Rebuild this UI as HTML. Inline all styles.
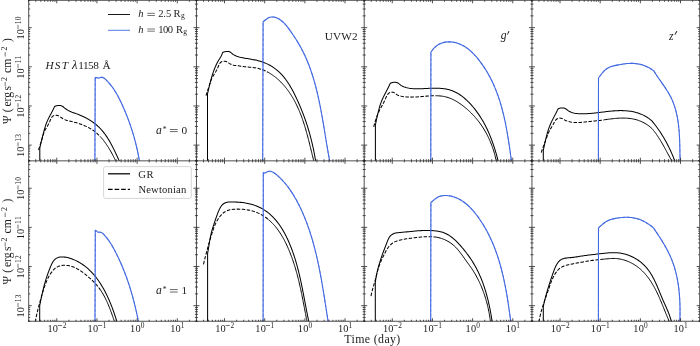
<!DOCTYPE html>
<html><head><meta charset="utf-8"><title>Reverberation light curves</title><style>html,body{margin:0;padding:0;background:#fff;}body{width:700px;height:346px;overflow:hidden;font-family:"Liberation Serif",serif;}svg{display:block;will-change:transform;}</style></head><body>
<svg width="700" height="346" viewBox="0 0 700 346">
<rect width="700" height="346" fill="#fff"/>
<defs>
<clipPath id="cp00"><rect x="28.7" y="0.3" width="167.75" height="160.4"/></clipPath>
<clipPath id="cp01"><rect x="196.45" y="0.3" width="167.75" height="160.4"/></clipPath>
<clipPath id="cp02"><rect x="364.2" y="0.3" width="167.75" height="160.4"/></clipPath>
<clipPath id="cp03"><rect x="531.95" y="0.3" width="167.75" height="160.4"/></clipPath>
<clipPath id="cp10"><rect x="28.7" y="160.85" width="167.75" height="160.4"/></clipPath>
<clipPath id="cp11"><rect x="196.45" y="160.85" width="167.75" height="160.4"/></clipPath>
<clipPath id="cp12"><rect x="364.2" y="160.85" width="167.75" height="160.4"/></clipPath>
<clipPath id="cp13"><rect x="531.95" y="160.85" width="167.75" height="160.4"/></clipPath>
</defs>
<g clip-path="url(#cp00)" fill="none" stroke-linejoin="round">
<path d="M39.8 161.5L39.8 148.2L40.05 146.99L40.3 145.78L40.57 144.58L40.84 143.37L41.13 142.17L41.42 140.97L41.71 139.77L42.02 138.57L42.32 137.37L42.63 136.18L42.95 134.98L43.26 133.78L43.58 132.59L43.9 131.39L44.22 130.19L44.55 129L44.89 127.81L45.24 126.63L45.61 125.45L46.01 124.29L46.44 123.13L46.89 121.99L47.38 120.86L47.9 119.74L48.43 118.62L48.99 117.52L49.55 116.42L50.13 115.32L50.71 114.23L51.3 113.14L51.88 112.04L52.45 110.95L53.02 109.84L53.57 108.74L54.1 107.62L54.6 106.5L55.68 105.95L56.85 105.64L58.09 105.5L59.34 105.48L60.56 105.56L61.71 105.88L62.74 106.52L63.72 107.28L64.68 108.04L65.66 108.77L66.67 109.48L67.71 110.14L68.78 110.75L69.87 111.3L70.99 111.79L72.13 112.25L73.28 112.67L74.44 113.07L75.6 113.47L76.76 113.88L77.91 114.31L79.06 114.75L80.19 115.21L81.32 115.69L82.44 116.19L83.55 116.71L84.65 117.24L85.73 117.8L86.81 118.37L87.87 118.97L88.92 119.58L89.96 120.22L90.98 120.88L91.99 121.55L92.99 122.25L93.97 122.97L94.93 123.71L95.88 124.47L96.81 125.25L97.72 126.06L98.61 126.89L99.49 127.74L100.35 128.61L101.19 129.51L102.01 130.43L102.8 131.37L103.58 132.33L104.34 133.31L105.09 134.31L105.81 135.33L106.52 136.36L107.22 137.4L107.89 138.46L108.55 139.53L109.2 140.62L109.84 141.71L110.46 142.81L111.06 143.91L111.66 145.02L112.24 146.14L112.81 147.26L113.38 148.38L113.93 149.5L114.47 150.62L115 151.74L115.53 152.85L116.05 153.96L116.56 155.07L117.06 156.16L117.56 157.25L118.05 158.33L118.54 159.4L119.02 160.46L119.5 161.5" stroke="#000" stroke-width="1.03"/>
<path d="M38.5 150L38.89 148.84L39.28 147.68L39.67 146.52L40.05 145.37L40.42 144.21L40.79 143.05L41.15 141.88L41.5 140.71L41.84 139.53L42.18 138.35L42.51 137.16L42.84 135.97L43.19 134.79L43.57 133.63L43.98 132.48L44.44 131.37L44.95 130.3L45.52 129.25L46.11 128.22L46.74 127.2L47.36 126.16L47.99 125.11L48.59 124.01L49.16 122.88L49.69 121.68L50.19 120.45L50.7 119.24L51.26 118.1L51.92 117.09L52.72 116.26L53.68 115.66L54.79 115.31L55.99 115.22L57.19 115.38L58.34 115.79L59.45 116.39L60.51 117.08L61.55 117.78L62.59 118.45L63.64 119.07L64.71 119.61L65.83 120.05L66.98 120.4L68.17 120.69L69.36 120.96L70.56 121.24L71.75 121.52L72.94 121.82L74.13 122.13L75.32 122.46L76.49 122.8L77.67 123.15L78.83 123.52L79.99 123.91L81.14 124.32L82.28 124.74L83.41 125.19L84.53 125.66L85.64 126.14L86.73 126.66L87.81 127.19L88.88 127.75L89.93 128.34L90.97 128.95L91.99 129.59L92.99 130.26L93.98 130.95L94.94 131.68L95.89 132.44L96.82 133.23L97.72 134.05L98.61 134.89L99.48 135.76L100.33 136.66" stroke="#000" stroke-width="1.03" stroke-dasharray="3.5 1.5"/>
<path d="M100.33 136.66L101.16 137.57L101.98 138.51L102.77 139.47L103.55 140.45L104.31 141.44L105.06 142.45L105.79 143.47L106.5 144.5L107.2 145.55L107.88 146.6L108.55 147.67L109.2 148.73L109.84 149.81L110.47 150.88L111.08 151.96L111.67 153.04L112.26 154.12L112.83 155.19L113.39 156.26L113.93 157.33L114.47 158.38L114.99 159.43L115.5 160.47L116 161.5" stroke="#000" stroke-width="0.99"/>
<path d="M94.9 161.5L95.2 77.6L96.34 77.46L97.48 77.85L98.64 78.01L99.83 77.72L101.01 77.38L102.13 77.34L103.2 77.67L104.22 78.26L105.19 79.04L106.12 79.92L107.03 80.83L107.9 81.75L108.75 82.69L109.58 83.63L110.37 84.59L111.15 85.57L111.9 86.55L112.62 87.55L113.33 88.55L114.02 89.57L114.68 90.59L115.33 91.63L115.96 92.67L116.58 93.72L117.18 94.78L117.76 95.85L118.34 96.92L118.9 98L119.45 99.08L119.99 100.17L120.52 101.27L121.04 102.36L121.56 103.47L122.07 104.57L122.57 105.68L123.07 106.79L123.56 107.9L124.05 109.02L124.53 110.14L125 111.26L125.47 112.38L125.93 113.51L126.39 114.64L126.83 115.77L127.28 116.9L127.72 118.04L128.15 119.18L128.57 120.32L128.99 121.47L129.4 122.62L129.81 123.76L130.21 124.92L130.61 126.07L130.99 127.23L131.38 128.38L131.75 129.54L132.12 130.71L132.49 131.87L132.84 133.04L133.19 134.2L133.54 135.37L133.88 136.55L134.21 137.72L134.53 138.89L134.85 140.07L135.17 141.25L135.47 142.43L135.77 143.61L136.07 144.79L136.35 145.98L136.63 147.17L136.91 148.35L137.18 149.54L137.44 150.73L137.69 151.93L137.94 153.12L138.18 154.31L138.42 155.51L138.65 156.7L138.87 157.9L139.09 159.1L139.3 160.3L139.5 161.5" stroke="#4169e1" stroke-width="1.08"/>
<path d="M94.9 161.5L95.2 77.6L96.34 77.46L97.48 77.85L98.64 78.01L99.83 77.72L101.01 77.38L102.13 77.34L103.2 77.67L104.22 78.26L105.19 79.04L106.12 79.92L107.03 80.83L107.9 81.75L108.75 82.69L109.58 83.63L110.37 84.59L111.15 85.57L111.9 86.55L112.62 87.55L113.33 88.55L114.02 89.57L114.68 90.59L115.33 91.63L115.96 92.67L116.58 93.72L117.18 94.78L117.76 95.85L118.34 96.92L118.9 98L119.45 99.08L119.99 100.17L120.52 101.27L121.04 102.36L121.56 103.47L122.07 104.57L122.57 105.68L123.07 106.79L123.56 107.9L124.05 109.02L124.53 110.14L125 111.26L125.47 112.38L125.93 113.51L126.39 114.64L126.83 115.77L127.28 116.9L127.72 118.04L128.15 119.18L128.57 120.32L128.99 121.47L129.4 122.62L129.81 123.76L130.21 124.92L130.61 126.07L130.99 127.23L131.38 128.38L131.75 129.54L132.12 130.71L132.49 131.87L132.84 133.04L133.19 134.2L133.54 135.37L133.88 136.55L134.21 137.72L134.53 138.89L134.85 140.07L135.17 141.25L135.47 142.43L135.77 143.61L136.07 144.79L136.35 145.98L136.63 147.17L136.91 148.35L137.18 149.54L137.44 150.73L137.69 151.93L137.94 153.12L138.18 154.31L138.42 155.51L138.65 156.7L138.87 157.9L139.09 159.1L139.3 160.3L139.5 161.5" stroke="#4169e1" stroke-width="1.08" stroke-dasharray="3.5 1.5" stroke-opacity="0.6"/>
</g>
<g clip-path="url(#cp01)" fill="none" stroke-linejoin="round">
<path d="M207.5 161.5L207.5 93.9L207.79 92.67L208.08 91.44L208.37 90.21L208.66 88.97L208.95 87.74L209.25 86.5L209.54 85.27L209.85 84.04L210.16 82.81L210.47 81.57L210.8 80.35L211.13 79.12L211.47 77.9L211.83 76.68L212.19 75.47L212.57 74.26L212.97 73.05L213.37 71.85L213.8 70.66L214.24 69.47L214.7 68.3L215.19 67.13L215.69 65.97L216.22 64.82L216.78 63.68L217.36 62.55L217.98 61.44L218.62 60.33L219.28 59.24L219.95 58.15L220.61 57.05L221.22 55.94L221.77 54.8L222.24 53.62L222.6 52.4L223.7 51.95L224.87 51.66L226.1 51.5L227.34 51.43L228.56 51.47L229.7 51.74L230.69 52.38L231.6 53.22L232.55 53.98L233.55 54.64L234.6 55.22L235.68 55.73L236.8 56.18L237.93 56.57L239.1 56.91L240.27 57.21L241.46 57.48L242.65 57.73L243.84 57.96L245.03 58.18L246.23 58.4L247.42 58.6L248.61 58.8L249.81 59.01L251 59.21L252.19 59.42L253.37 59.64L254.55 59.87L255.73 60.11L256.9 60.37L258.07 60.66L259.23 60.96L260.38 61.29L261.52 61.65L262.66 62.04L263.79 62.46L264.91 62.9L266.01 63.38L267.11 63.88L268.19 64.4L269.26 64.95L270.31 65.53L271.35 66.14L272.37 66.77L273.37 67.43L274.36 68.11L275.33 68.81L276.27 69.54L277.2 70.3L278.1 71.08L278.99 71.88L279.85 72.71L280.7 73.55L281.52 74.42L282.33 75.31L283.12 76.21L283.89 77.13L284.64 78.07L285.38 79.03L286.1 80L286.81 80.99L287.5 81.99L288.18 83.01L288.84 84.03L289.49 85.07L290.12 86.12L290.75 87.18L291.36 88.25L291.96 89.32L292.55 90.41L293.13 91.49L293.7 92.59L294.25 93.69L294.8 94.79L295.35 95.9L295.88 97.01L296.41 98.12L296.92 99.23L297.44 100.35L297.94 101.46L298.44 102.57L298.93 103.69L299.42 104.8L299.9 105.92L300.37 107.04L300.84 108.15L301.29 109.27L301.75 110.39L302.19 111.51L302.63 112.63L303.07 113.75L303.49 114.88L303.91 116L304.33 117.13L304.74 118.26L305.14 119.39L305.53 120.52L305.92 121.65L306.3 122.78L306.68 123.92L307.05 125.06L307.42 126.2L307.78 127.34L308.13 128.48L308.48 129.62L308.82 130.77L309.15 131.92L309.48 133.07L309.8 134.22L310.12 135.38L310.43 136.54L310.74 137.7L311.04 138.86L311.33 140.03L311.62 141.2L311.91 142.37L312.18 143.54L312.46 144.71L312.72 145.89L312.98 147.08L313.24 148.26L313.49 149.45L313.73 150.64L313.97 151.83L314.21 153.03L314.44 154.23L314.66 155.43L314.88 156.64L315.09 157.85L315.3 159.06L315.5 160.28L315.7 161.5" stroke="#000" stroke-width="1.03"/>
<path d="M206 95.7L206.35 94.54L206.7 93.38L207.07 92.23L207.44 91.09L207.82 89.94L208.2 88.8L208.58 87.65L208.96 86.51L209.33 85.35L209.69 84.2L210.05 83.03L210.42 81.88L210.82 80.73L211.25 79.62L211.74 78.54L212.28 77.5L212.86 76.47L213.47 75.46L214.09 74.45L214.73 73.43L215.36 72.4L215.98 71.35L216.58 70.26L217.15 69.13L217.67 67.95L218.17 66.74L218.67 65.54L219.22 64.4L219.83 63.37L220.55 62.49L221.4 61.79L222.43 61.34L223.61 61.15L224.85 61.22L226.06 61.54L227.17 62.05L228.23 62.68L229.27 63.33L230.33 63.93L231.41 64.45L232.53 64.87L233.68 65.18L234.87 65.39L236.08 65.54L237.3 65.67L238.5 65.82L239.7 65.99L240.89 66.16L242.08 66.34L243.26 66.52L244.45 66.69L245.65 66.84L246.85 66.97L248.06 67.08L249.27 67.18L250.49 67.27L251.7 67.38L252.91 67.5L254.11 67.65L255.3 67.83L256.48 68.05L257.64 68.3L258.79 68.59L259.93 68.91L261.06 69.26L262.18 69.65L263.28 70.07L264.37 70.52L265.45 71L266.51 71.51L267.57 72.05L268.6 72.61" stroke="#000" stroke-width="1.03" stroke-dasharray="3.5 1.5"/>
<path d="M268.6 72.61L269.63 73.2L270.64 73.82L271.64 74.46L272.63 75.13L273.6 75.82L274.55 76.53L275.5 77.27L276.43 78.03L277.34 78.8L278.25 79.6L279.13 80.41L280.01 81.25L280.86 82.1L281.71 82.96L282.54 83.85L283.35 84.74L284.15 85.65L284.94 86.58L285.7 87.52L286.46 88.46L287.2 89.42L287.92 90.39L288.63 91.37L289.32 92.36L290 93.36L290.66 94.37L291.31 95.38L291.95 96.41L292.57 97.44L293.18 98.48L293.77 99.53L294.36 100.59L294.93 101.65L295.48 102.72L296.03 103.8L296.56 104.89L297.09 105.98L297.6 107.08L298.1 108.18L298.59 109.29L299.07 110.41L299.54 111.53L300 112.66L300.45 113.79L300.89 114.93L301.32 116.07L301.74 117.21L302.16 118.36L302.56 119.51L302.96 120.67L303.35 121.83L303.73 122.99L304.11 124.15L304.48 125.32L304.84 126.49L305.19 127.66L305.54 128.84L305.88 130.01L306.22 131.19L306.55 132.37L306.88 133.55L307.2 134.73L307.52 135.91L307.84 137.09L308.15 138.27L308.45 139.45L308.75 140.62L309.05 141.8L309.35 142.98L309.64 144.16L309.93 145.33L310.22 146.51L310.51 147.68L310.79 148.85L311.08 150.01L311.36 151.18L311.64 152.34L311.92 153.5L312.2 154.65L312.49 155.8L312.77 156.95L313.05 158.09L313.33 159.23L313.62 160.37L313.9 161.5" stroke="#000" stroke-width="0.99"/>
<path d="M262.7 161.5L263.1 21.7L264.05 20.99L265 20.22L265.97 19.46L266.97 18.73L268.01 18.1L269.09 17.58L270.21 17.2L271.36 16.99L272.53 16.93L273.7 17.04L274.88 17.28L276.05 17.64L277.2 18.11L278.32 18.66L279.4 19.29L280.44 19.97L281.43 20.71L282.38 21.49L283.29 22.32L284.17 23.18L285.01 24.08L285.83 25.01L286.63 25.96L287.4 26.93L288.15 27.92L288.89 28.92L289.61 29.92L290.33 30.93L291.04 31.93L291.74 32.94L292.44 33.95L293.13 34.96L293.81 35.97L294.48 36.99L295.14 38L295.8 39.02L296.44 40.04L297.08 41.07L297.71 42.1L298.33 43.13L298.93 44.16L299.53 45.2L300.12 46.24L300.7 47.29L301.27 48.35L301.83 49.4L302.38 50.47L302.93 51.53L303.46 52.61L303.98 53.68L304.49 54.76L305 55.85L305.49 56.93L305.98 58.03L306.46 59.12L306.93 60.22L307.39 61.33L307.84 62.44L308.29 63.55L308.73 64.67L309.15 65.78L309.58 66.91L309.99 68.03L310.4 69.16L310.8 70.3L311.19 71.43L311.57 72.57L311.95 73.71L312.32 74.86L312.69 76.01L313.05 77.16L313.4 78.31L313.74 79.47L314.08 80.63L314.42 81.79L314.74 82.95L315.07 84.12L315.38 85.29L315.69 86.46L316 87.63L316.3 88.81L316.59 89.98L316.88 91.16L317.17 92.34L317.45 93.53L317.72 94.71L317.99 95.9L318.26 97.09L318.52 98.28L318.78 99.47L319.04 100.66L319.29 101.85L319.53 103.05L319.78 104.24L320.02 105.44L320.26 106.64L320.49 107.83L320.72 109.03L320.95 110.23L321.17 111.43L321.39 112.64L321.61 113.84L321.83 115.04L322.05 116.24L322.26 117.45L322.47 118.65L322.68 119.85L322.89 121.06L323.09 122.26L323.29 123.46L323.5 124.67L323.7 125.87L323.9 127.07L324.1 128.28L324.3 129.48L324.49 130.68L324.69 131.88L324.89 133.08L325.08 134.28L325.28 135.48L325.48 136.68L325.67 137.87L325.87 139.07L326.06 140.27L326.26 141.46L326.46 142.65L326.66 143.84L326.86 145.03L327.06 146.22L327.26 147.41L327.46 148.59L327.66 149.78L327.87 150.96L328.07 152.14L328.28 153.31L328.49 154.49L328.71 155.66L328.92 156.84L329.14 158.01L329.35 159.17L329.58 160.34L329.8 161.5" stroke="#4169e1" stroke-width="1.08"/>
<path d="M262.7 161.5L263.1 21.7L264.05 20.99L265 20.22L265.97 19.46L266.97 18.73L268.01 18.1L269.09 17.58L270.21 17.2L271.36 16.99L272.53 16.93L273.7 17.04L274.88 17.28L276.05 17.64L277.2 18.11L278.32 18.66L279.4 19.29L280.44 19.97L281.43 20.71L282.38 21.49L283.29 22.32L284.17 23.18L285.01 24.08L285.83 25.01L286.63 25.96L287.4 26.93L288.15 27.92L288.89 28.92L289.61 29.92L290.33 30.93L291.04 31.93L291.74 32.94L292.44 33.95L293.13 34.96L293.81 35.97L294.48 36.99L295.14 38L295.8 39.02L296.44 40.04L297.08 41.07L297.71 42.1L298.33 43.13L298.93 44.16L299.53 45.2L300.12 46.24L300.7 47.29L301.27 48.35L301.83 49.4L302.38 50.47L302.93 51.53L303.46 52.61L303.98 53.68L304.49 54.76L305 55.85L305.49 56.93L305.98 58.03L306.46 59.12L306.93 60.22L307.39 61.33L307.84 62.44L308.29 63.55L308.73 64.67L309.15 65.78L309.58 66.91L309.99 68.03L310.4 69.16L310.8 70.3L311.19 71.43L311.57 72.57L311.95 73.71L312.32 74.86L312.69 76.01L313.05 77.16L313.4 78.31L313.74 79.47L314.08 80.63L314.42 81.79L314.74 82.95L315.07 84.12L315.38 85.29L315.69 86.46L316 87.63L316.3 88.81L316.59 89.98L316.88 91.16L317.17 92.34L317.45 93.53L317.72 94.71L317.99 95.9L318.26 97.09L318.52 98.28L318.78 99.47L319.04 100.66L319.29 101.85L319.53 103.05L319.78 104.24L320.02 105.44L320.26 106.64L320.49 107.83L320.72 109.03L320.95 110.23L321.17 111.43L321.39 112.64L321.61 113.84L321.83 115.04L322.05 116.24L322.26 117.45L322.47 118.65L322.68 119.85L322.89 121.06L323.09 122.26L323.29 123.46L323.5 124.67L323.7 125.87L323.9 127.07L324.1 128.28L324.3 129.48L324.49 130.68L324.69 131.88L324.89 133.08L325.08 134.28L325.28 135.48L325.48 136.68L325.67 137.87L325.87 139.07L326.06 140.27L326.26 141.46L326.46 142.65L326.66 143.84L326.86 145.03L327.06 146.22L327.26 147.41L327.46 148.59L327.66 149.78L327.87 150.96L328.07 152.14L328.28 153.31L328.49 154.49L328.71 155.66L328.92 156.84L329.14 158.01L329.35 159.17L329.58 160.34L329.8 161.5" stroke="#4169e1" stroke-width="1.08" stroke-dasharray="3.5 1.5" stroke-opacity="0.6"/>
</g>
<g clip-path="url(#cp02)" fill="none" stroke-linejoin="round">
<path d="M375.4 161.5L375.4 125.5L375.59 124.26L375.8 123.02L376.03 121.79L376.27 120.56L376.52 119.33L376.79 118.11L377.07 116.88L377.36 115.66L377.66 114.44L377.96 113.22L378.27 112L378.57 110.78L378.88 109.57L379.2 108.35L379.53 107.14L379.88 105.93L380.25 104.74L380.66 103.55L381.09 102.38L381.55 101.22L382.03 100.06L382.54 98.92L383.06 97.78L383.6 96.65L384.16 95.52L384.72 94.4L385.29 93.28L385.87 92.16L386.45 91.05L387.04 89.93L387.62 88.82L388.19 87.7L388.76 86.58L389.32 85.46L389.87 84.33L390.4 83.2L391.5 82.73L392.69 82.45L393.94 82.3L395.19 82.29L396.39 82.42L397.51 82.77L398.51 83.4L399.45 84.21L400.42 84.95L401.44 85.61L402.5 86.19L403.6 86.68L404.74 87.11L405.9 87.48L407.08 87.78L408.28 88.04L409.49 88.25L410.71 88.41L411.92 88.55L413.14 88.65L414.35 88.72L415.57 88.77L416.78 88.79L418 88.8L419.21 88.78L420.43 88.75L421.64 88.71L422.86 88.66L424.07 88.6L425.29 88.53L426.51 88.46L427.72 88.4L428.94 88.34L430.16 88.28L431.38 88.23L432.6 88.19L433.83 88.17L435.05 88.16L436.27 88.17L437.49 88.2L438.71 88.25L439.92 88.32L441.13 88.41L442.34 88.53L443.54 88.68L444.73 88.85L445.91 89.06L447.09 89.29L448.25 89.56L449.41 89.86L450.55 90.2L451.68 90.58L452.8 91L453.9 91.45L454.99 91.95L456.07 92.48L457.12 93.06L458.17 93.66L459.2 94.3L460.22 94.97L461.22 95.67L462.2 96.4L463.18 97.15L464.13 97.93L465.07 98.74L466 99.56L466.92 100.41L467.81 101.27L468.7 102.15L469.56 103.05L470.42 103.96L471.25 104.89L472.08 105.82L472.89 106.77L473.68 107.72L474.46 108.68L475.22 109.65L475.97 110.62L476.7 111.6L477.42 112.59L478.13 113.59L478.82 114.6L479.5 115.61L480.17 116.62L480.82 117.65L481.46 118.68L482.09 119.72L482.7 120.76L483.31 121.81L483.9 122.87L484.48 123.93L485.05 125L485.6 126.08L486.15 127.16L486.68 128.24L487.21 129.33L487.72 130.43L488.22 131.53L488.71 132.63L489.19 133.74L489.67 134.86L490.13 135.98L490.58 137.1L491.03 138.23L491.46 139.36L491.89 140.5L492.31 141.64L492.72 142.78L493.12 143.93L493.51 145.08L493.9 146.24L494.28 147.4L494.65 148.56L495.01 149.72L495.37 150.89L495.72 152.06L496.06 153.23L496.4 154.41L496.73 155.58L497.05 156.76L497.37 157.94L497.69 159.13L498 160.31L498.3 161.5" stroke="#000" stroke-width="1.03"/>
<path d="M373.7 126.8L374.02 125.65L374.34 124.49L374.68 123.33L375.02 122.17L375.37 121.01L375.73 119.85L376.11 118.69L376.5 117.54L376.91 116.4L377.34 115.27L377.78 114.15L378.25 113.04L378.74 111.94L379.25 110.86L379.78 109.79L380.34 108.74L380.9 107.69L381.48 106.64L382.06 105.6L382.64 104.54L383.21 103.47L383.77 102.39L384.32 101.29L384.84 100.16L385.35 99.01L385.84 97.84L386.35 96.69L386.91 95.59L387.56 94.58L388.32 93.67L389.22 92.92L390.29 92.37L391.48 92.13L392.71 92.2L393.87 92.57L394.91 93.19L395.89 93.92L396.88 94.65L397.93 95.26L399.05 95.7L400.22 96.03L401.41 96.28L402.61 96.49L403.8 96.67L405 96.81L406.2 96.93L407.39 97.01L408.59 97.07L409.79 97.11L410.99 97.12L412.2 97.11L413.4 97.08L414.61 97.03L415.81 96.97L417.02 96.9L418.23 96.82L419.44 96.73L420.65 96.63L421.86 96.53L423.07 96.42L424.29 96.32L425.5 96.22L426.72 96.12L427.93 96.03L429.15 95.94L430.36 95.87L431.57 95.81L432.78 95.77L433.99 95.74L435.19 95.73L436.39 95.75" stroke="#000" stroke-width="1.03" stroke-dasharray="3.5 1.5"/>
<path d="M436.39 95.75L437.58 95.78L438.77 95.85L439.96 95.94L441.13 96.06L442.31 96.21L443.47 96.4L444.63 96.63L445.78 96.89L446.92 97.2L448.06 97.54L449.18 97.93L450.3 98.35L451.41 98.81L452.5 99.31L453.59 99.83L454.67 100.39L455.74 100.98L456.79 101.59L457.84 102.23L458.87 102.9L459.89 103.58L460.91 104.29L461.9 105.02L462.89 105.77L463.86 106.53L464.83 107.3L465.77 108.09L466.71 108.89L467.63 109.7L468.54 110.52L469.43 111.35L470.31 112.18L471.18 113.03L472.03 113.89L472.87 114.76L473.7 115.64L474.51 116.53L475.31 117.43L476.09 118.34L476.87 119.26L477.62 120.19L478.37 121.12L479.1 122.07L479.82 123.03L480.52 124L481.21 124.98L481.88 125.96L482.55 126.96L483.19 127.97L483.83 128.99L484.45 130.01L485.06 131.05L485.65 132.09L486.23 133.14L486.8 134.2L487.35 135.27L487.89 136.35L488.42 137.43L488.93 138.53L489.43 139.62L489.91 140.73L490.39 141.84L490.84 142.96L491.29 144.08L491.72 145.21L492.14 146.35L492.55 147.49L492.94 148.64L493.32 149.79L493.69 150.94L494.04 152.1L494.38 153.27L494.71 154.43L495.02 155.6L495.32 156.78L495.61 157.95L495.89 159.13L496.15 160.32L496.4 161.5" stroke="#000" stroke-width="0.99"/>
<path d="M430.8 161.5L430.9 52.3L431.55 51.27L432.25 50.26L433 49.3L433.81 48.38L434.67 47.51L435.57 46.69L436.51 45.93L437.5 45.22L438.52 44.58L439.58 44L440.67 43.49L441.79 43.04L442.94 42.67L444.11 42.38L445.29 42.15L446.49 41.98L447.7 41.89L448.92 41.85L450.14 41.87L451.35 41.95L452.56 42.09L453.76 42.28L454.94 42.52L456.11 42.81L457.26 43.14L458.38 43.52L459.49 43.94L460.59 44.4L461.66 44.91L462.72 45.45L463.76 46.03L464.78 46.64L465.78 47.29L466.77 47.97L467.74 48.69L468.7 49.43L469.64 50.2L470.56 51L471.47 51.82L472.36 52.66L473.24 53.53L474.1 54.42L474.95 55.32L475.78 56.25L476.59 57.18L477.4 58.14L478.19 59.1L478.96 60.08L479.72 61.06L480.47 62.06L481.21 63.06L481.93 64.06L482.64 65.07L483.33 66.09L484.02 67.11L484.69 68.14L485.34 69.17L485.99 70.21L486.62 71.25L487.25 72.29L487.86 73.34L488.46 74.4L489.04 75.46L489.62 76.52L490.19 77.59L490.74 78.66L491.28 79.74L491.82 80.82L492.34 81.91L492.85 83L493.35 84.09L493.84 85.19L494.32 86.29L494.8 87.4L495.26 88.51L495.71 89.62L496.16 90.74L496.59 91.86L497.02 92.98L497.43 94.11L497.84 95.24L498.24 96.37L498.63 97.5L499.01 98.64L499.39 99.79L499.75 100.93L500.11 102.08L500.46 103.23L500.81 104.38L501.14 105.54L501.47 106.7L501.8 107.86L502.11 109.02L502.42 110.19L502.72 111.36L503.02 112.53L503.31 113.7L503.59 114.87L503.87 116.05L504.14 117.23L504.41 118.41L504.67 119.59L504.92 120.77L505.17 121.96L505.42 123.15L505.66 124.33L505.89 125.52L506.12 126.72L506.35 127.91L506.57 129.1L506.79 130.3L507 131.49L507.21 132.69L507.42 133.88L507.62 135.08L507.82 136.28L508.02 137.48L508.21 138.68L508.4 139.88L508.59 141.08L508.77 142.28L508.96 143.49L509.14 144.69L509.31 145.89L509.49 147.09L509.66 148.29L509.84 149.5L510.01 150.7L510.18 151.9L510.34 153.1L510.51 154.3L510.68 155.5L510.84 156.71L511.01 157.9L511.17 159.1L511.34 160.3L511.5 161.5" stroke="#4169e1" stroke-width="1.08"/>
<path d="M430.8 161.5L430.9 52.3L431.55 51.27L432.25 50.26L433 49.3L433.81 48.38L434.67 47.51L435.57 46.69L436.51 45.93L437.5 45.22L438.52 44.58L439.58 44L440.67 43.49L441.79 43.04L442.94 42.67L444.11 42.38L445.29 42.15L446.49 41.98L447.7 41.89L448.92 41.85L450.14 41.87L451.35 41.95L452.56 42.09L453.76 42.28L454.94 42.52L456.11 42.81L457.26 43.14L458.38 43.52L459.49 43.94L460.59 44.4L461.66 44.91L462.72 45.45L463.76 46.03L464.78 46.64L465.78 47.29L466.77 47.97L467.74 48.69L468.7 49.43L469.64 50.2L470.56 51L471.47 51.82L472.36 52.66L473.24 53.53L474.1 54.42L474.95 55.32L475.78 56.25L476.59 57.18L477.4 58.14L478.19 59.1L478.96 60.08L479.72 61.06L480.47 62.06L481.21 63.06L481.93 64.06L482.64 65.07L483.33 66.09L484.02 67.11L484.69 68.14L485.34 69.17L485.99 70.21L486.62 71.25L487.25 72.29L487.86 73.34L488.46 74.4L489.04 75.46L489.62 76.52L490.19 77.59L490.74 78.66L491.28 79.74L491.82 80.82L492.34 81.91L492.85 83L493.35 84.09L493.84 85.19L494.32 86.29L494.8 87.4L495.26 88.51L495.71 89.62L496.16 90.74L496.59 91.86L497.02 92.98L497.43 94.11L497.84 95.24L498.24 96.37L498.63 97.5L499.01 98.64L499.39 99.79L499.75 100.93L500.11 102.08L500.46 103.23L500.81 104.38L501.14 105.54L501.47 106.7L501.8 107.86L502.11 109.02L502.42 110.19L502.72 111.36L503.02 112.53L503.31 113.7L503.59 114.87L503.87 116.05L504.14 117.23L504.41 118.41L504.67 119.59L504.92 120.77L505.17 121.96L505.42 123.15L505.66 124.33L505.89 125.52L506.12 126.72L506.35 127.91L506.57 129.1L506.79 130.3L507 131.49L507.21 132.69L507.42 133.88L507.62 135.08L507.82 136.28L508.02 137.48L508.21 138.68L508.4 139.88L508.59 141.08L508.77 142.28L508.96 143.49L509.14 144.69L509.31 145.89L509.49 147.09L509.66 148.29L509.84 149.5L510.01 150.7L510.18 151.9L510.34 153.1L510.51 154.3L510.68 155.5L510.84 156.71L511.01 157.9L511.17 159.1L511.34 160.3L511.5 161.5" stroke="#4169e1" stroke-width="1.08" stroke-dasharray="3.5 1.5" stroke-opacity="0.6"/>
</g>
<g clip-path="url(#cp03)" fill="none" stroke-linejoin="round">
<path d="M543.3 161.5L543.3 150.3L543.57 149.08L543.83 147.85L544.1 146.62L544.36 145.39L544.63 144.15L544.89 142.92L545.17 141.69L545.45 140.46L545.73 139.23L546.03 138L546.33 136.77L546.64 135.55L546.97 134.33L547.31 133.12L547.67 131.91L548.04 130.71L548.43 129.51L548.84 128.32L549.27 127.14L549.72 125.97L550.19 124.81L550.69 123.65L551.21 122.51L551.75 121.37L552.3 120.24L552.87 119.11L553.44 117.99L554.02 116.87L554.61 115.75L555.19 114.63L555.77 113.51L556.35 112.39L556.91 111.27L557.47 110.14L558 109L559.08 108.45L560.26 108.11L561.48 107.96L562.73 107.96L563.95 108.1L565.09 108.46L566.14 109.05L567.12 109.78L568.09 110.55L569.09 111.27L570.17 111.85L571.31 112.31L572.49 112.68L573.68 112.98L574.88 113.22L576.09 113.41L577.31 113.55L578.53 113.66L579.75 113.73L580.98 113.76L582.2 113.78L583.43 113.77L584.65 113.75L585.88 113.71L587.1 113.65L588.32 113.58L589.54 113.5L590.76 113.4L591.97 113.29L593.19 113.18L594.41 113.05L595.62 112.92L596.84 112.78L598.06 112.64L599.27 112.49L600.49 112.34L601.71 112.19L602.92 112.04L604.14 111.89L605.36 111.74L606.58 111.6L607.79 111.46L609.01 111.33L610.23 111.2L611.45 111.09L612.68 110.98L613.9 110.88L615.12 110.8L616.34 110.73L617.56 110.67L618.79 110.63L620.01 110.61L621.23 110.6L622.46 110.62L623.68 110.65L624.91 110.71L626.13 110.79L627.35 110.89L628.57 111.02L629.78 111.18L630.99 111.36L632.19 111.57L633.39 111.81L634.59 112.08L635.77 112.38L636.95 112.71L638.12 113.08L639.28 113.47L640.43 113.91L641.57 114.38L642.69 114.88L643.8 115.41L644.89 115.98L645.97 116.59L647.02 117.22L648.05 117.89L649.05 118.6L650.03 119.33L650.98 120.1L651.9 120.9L652.69 121.85L653.46 122.82L654.23 123.79L654.99 124.76L655.74 125.75L656.48 126.74L657.2 127.74L657.92 128.74L658.63 129.75L659.33 130.77L660.02 131.79L660.7 132.83L661.37 133.86L662.03 134.91L662.68 135.96L663.32 137.01L663.95 138.07L664.57 139.14L665.18 140.21L665.78 141.29L666.37 142.37L666.96 143.46L667.53 144.55L668.09 145.65L668.65 146.76L669.19 147.86L669.73 148.98L670.26 150.09L670.77 151.22L671.28 152.34L671.78 153.47L672.27 154.61L672.74 155.75L673.21 156.89L673.67 158.04L674.13 159.19L674.57 160.34L675 161.5" stroke="#000" stroke-width="1.03"/>
<path d="M541.3 152.6L541.63 151.43L542 150.26L542.38 149.11L542.78 147.96L543.19 146.83L543.62 145.69L544.05 144.56L544.48 143.43L544.92 142.29L545.35 141.15L545.77 140.01L546.18 138.86L546.59 137.71L547 136.56L547.43 135.41L547.87 134.28L548.33 133.16L548.82 132.05L549.35 130.97L549.93 129.91L550.54 128.88L551.17 127.85L551.81 126.82L552.44 125.77L553.05 124.7L553.62 123.6L554.18 122.49L554.78 121.41L555.45 120.4L556.25 119.5L557.2 118.76L558.3 118.26L559.51 118.06L560.75 118.14L561.93 118.47L563.03 119.01L564.09 119.63L565.15 120.23L566.25 120.75L567.39 121.19L568.55 121.55L569.73 121.85L570.92 122.09L572.12 122.27L573.33 122.41L574.54 122.5L575.75 122.54L576.96 122.56L578.17 122.54L579.38 122.49L580.59 122.42L581.81 122.32L583.02 122.21L584.23 122.09L585.44 121.96L586.66 121.83L587.87 121.7L589.08 121.57L590.29 121.44L591.5 121.32L592.71 121.2L593.92 121.08L595.12 120.95L596.33 120.82L597.54 120.69L598.74 120.55L599.94 120.4L601.14 120.24L602.34 120.08L603.55 119.91" stroke="#000" stroke-width="1.03" stroke-dasharray="3.5 1.5"/>
<path d="M603.55 119.91L604.75 119.74L605.95 119.58L607.15 119.41L608.35 119.25L609.56 119.09L610.76 118.94L611.97 118.79L613.18 118.66L614.39 118.53L615.6 118.42L616.81 118.32L618.03 118.24L619.25 118.17L620.47 118.12L621.68 118.08L622.9 118.07L624.12 118.08L625.34 118.12L626.55 118.17L627.76 118.26L628.97 118.37L630.17 118.51L631.37 118.67L632.56 118.87L633.74 119.11L634.92 119.37L636.09 119.68L637.26 120.01L638.41 120.39L639.56 120.81L640.69 121.26L641.81 121.75L642.92 122.28L644.01 122.85L645.08 123.45L646.13 124.08L647.16 124.74L648.17 125.43L649.14 126.16L650.09 126.91L651.01 127.69L651.9 128.5L652.71 129.46L653.51 130.43L654.29 131.42L655.04 132.41L655.79 133.42L656.51 134.44L657.22 135.46L657.92 136.5L658.6 137.55L659.28 138.6L659.94 139.66L660.59 140.73L661.23 141.81L661.86 142.89L662.49 143.97L663.11 145.06L663.72 146.15L664.33 147.25L664.93 148.35L665.53 149.45L666.13 150.55L666.73 151.65L667.32 152.75L667.92 153.86L668.52 154.96L669.12 156.06L669.73 157.15L670.34 158.25L670.95 159.33L671.57 160.42L672.2 161.5" stroke="#000" stroke-width="0.99"/>
<path d="M598.4 161.5L598.5 78L599.24 77.03L599.97 76.03L600.71 75.03L601.47 74.03L602.24 73.04L603.05 72.09L603.89 71.18L604.78 70.32L605.73 69.53L606.72 68.8L607.77 68.15L608.85 67.56L609.98 67.05L611.13 66.6L612.31 66.23L613.51 65.9L614.72 65.62L615.94 65.36L617.17 65.13L618.39 64.9L619.61 64.67L620.83 64.45L622.04 64.24L623.26 64.04L624.48 63.86L625.7 63.71L626.94 63.58L628.17 63.48L629.41 63.42L630.65 63.38L631.9 63.38L633.14 63.41L634.37 63.48L635.61 63.59L636.84 63.73L638.06 63.91L639.28 64.14L640.48 64.4L641.68 64.71L642.86 65.06L644.03 65.46L645.19 65.91L646.32 66.4L647.45 66.94L648.55 67.51L649.64 68.12L650.7 68.76L651.75 69.43L652.79 70.11L653.8 70.8L654.43 71.86L655.08 72.9L655.74 73.93L656.41 74.96L657.1 75.99L657.79 77.01L658.48 78.03L659.18 79.04L659.89 80.05L660.59 81.06L661.3 82.08L662.01 83.09L662.71 84.1L663.41 85.11L664.11 86.12L664.8 87.14L665.48 88.16L666.15 89.18L666.81 90.21L667.46 91.24L668.09 92.28L668.71 93.33L669.32 94.38L669.9 95.44L670.47 96.51L671.02 97.59L671.54 98.68L672.05 99.77L672.53 100.88L672.99 102L673.43 103.12L673.85 104.26L674.25 105.4L674.64 106.55L675 107.7L675.35 108.87L675.68 110.04L675.99 111.21L676.28 112.4L676.56 113.59L676.83 114.78L677.08 115.98L677.31 117.19L677.53 118.4L677.74 119.62L677.93 120.84L678.12 122.06L678.29 123.29L678.44 124.52L678.59 125.75L678.73 126.99L678.85 128.23L678.97 129.47L679.07 130.71L679.17 131.96L679.26 133.2L679.34 134.45L679.41 135.7L679.48 136.94L679.54 138.19L679.6 139.44L679.64 140.68L679.69 141.93L679.73 143.17L679.76 144.42L679.8 145.66L679.82 146.9L679.85 148.14L679.87 149.37L679.9 150.6L679.92 151.83L679.94 153.05L679.96 154.27L679.98 155.49L680 156.7L680.02 157.91L680.05 159.11L680.07 160.31L680.1 161.5" stroke="#4169e1" stroke-width="1.08"/>
<path d="M598.4 161.5L598.5 78L599.24 77.03L599.97 76.03L600.71 75.03L601.47 74.03L602.24 73.04L603.05 72.09L603.89 71.18L604.78 70.32L605.73 69.53L606.72 68.8L607.77 68.15L608.85 67.56L609.98 67.05L611.13 66.6L612.31 66.23L613.51 65.9L614.72 65.62L615.94 65.36L617.17 65.13L618.39 64.9L619.61 64.67L620.83 64.45L622.04 64.24L623.26 64.04L624.48 63.86L625.7 63.71L626.94 63.58L628.17 63.48L629.41 63.42L630.65 63.38L631.9 63.38L633.14 63.41L634.37 63.48L635.61 63.59L636.84 63.73L638.06 63.91L639.28 64.14L640.48 64.4L641.68 64.71L642.86 65.06L644.03 65.46L645.19 65.91L646.32 66.4L647.45 66.94L648.55 67.51L649.64 68.12L650.7 68.76L651.75 69.43L652.79 70.11L653.8 70.8L654.43 71.86L655.08 72.9L655.74 73.93L656.41 74.96L657.1 75.99L657.79 77.01L658.48 78.03L659.18 79.04L659.89 80.05L660.59 81.06L661.3 82.08L662.01 83.09L662.71 84.1L663.41 85.11L664.11 86.12L664.8 87.14L665.48 88.16L666.15 89.18L666.81 90.21L667.46 91.24L668.09 92.28L668.71 93.33L669.32 94.38L669.9 95.44L670.47 96.51L671.02 97.59L671.54 98.68L672.05 99.77L672.53 100.88L672.99 102L673.43 103.12L673.85 104.26L674.25 105.4L674.64 106.55L675 107.7L675.35 108.87L675.68 110.04L675.99 111.21L676.28 112.4L676.56 113.59L676.83 114.78L677.08 115.98L677.31 117.19L677.53 118.4L677.74 119.62L677.93 120.84L678.12 122.06L678.29 123.29L678.44 124.52L678.59 125.75L678.73 126.99L678.85 128.23L678.97 129.47L679.07 130.71L679.17 131.96L679.26 133.2L679.34 134.45L679.41 135.7L679.48 136.94L679.54 138.19L679.6 139.44L679.64 140.68L679.69 141.93L679.73 143.17L679.76 144.42L679.8 145.66L679.82 146.9L679.85 148.14L679.87 149.37L679.9 150.6L679.92 151.83L679.94 153.05L679.96 154.27L679.98 155.49L680 156.7L680.02 157.91L680.05 159.11L680.07 160.31L680.1 161.5" stroke="#4169e1" stroke-width="1.08" stroke-dasharray="3.5 1.5" stroke-opacity="0.6"/>
</g>
<g clip-path="url(#cp10)" fill="none" stroke-linejoin="round">
<path d="M39.7 322L39.7 305.7L39.93 304.51L40.17 303.32L40.4 302.13L40.64 300.93L40.89 299.74L41.13 298.55L41.39 297.35L41.64 296.16L41.9 294.96L42.17 293.77L42.44 292.58L42.72 291.39L43 290.2L43.29 289.02L43.59 287.83L43.89 286.65L44.2 285.47L44.52 284.3L44.84 283.12L45.18 281.95L45.52 280.79L45.87 279.62L46.23 278.47L46.61 277.31L46.99 276.16L47.38 275.02L47.78 273.88L48.19 272.74L48.61 271.6L49.04 270.47L49.49 269.33L49.95 268.19L50.41 267.05L50.89 265.91L51.39 264.77L51.92 263.64L52.5 262.54L53.14 261.5L53.86 260.52L54.68 259.62L55.59 258.82L56.59 258.15L57.68 257.65L58.83 257.3L60.03 257.09L61.25 256.99L62.47 256.97L63.69 257.02L64.91 257.13L66.12 257.31L67.33 257.55L68.52 257.84L69.71 258.18L70.88 258.55L72.04 258.96L73.18 259.41L74.3 259.88L75.41 260.37L76.5 260.9L77.57 261.44L78.62 262.01L79.66 262.61L80.68 263.23L81.68 263.87L82.67 264.53L83.64 265.22L84.59 265.93L85.53 266.66L86.45 267.41L87.36 268.17L88.25 268.96L89.13 269.77L89.99 270.6L90.84 271.44L91.67 272.3L92.48 273.18L93.29 274.07L94.08 274.98L94.85 275.91L95.61 276.85L96.36 277.8L97.09 278.77L97.81 279.76L98.52 280.75L99.21 281.76L99.89 282.78L100.56 283.81L101.22 284.85L101.86 285.9L102.49 286.96L103.11 288.04L103.72 289.12L104.32 290.2L104.9 291.3L105.48 292.4L106.04 293.51L106.59 294.63L107.13 295.75L107.66 296.88L108.18 298.01L108.69 299.15L109.19 300.29L109.68 301.43L110.16 302.58L110.63 303.73L111.09 304.88L111.54 306.03L111.99 307.18L112.42 308.33L112.84 309.49L113.26 310.64L113.67 311.79L114.07 312.94L114.46 314.08L114.85 315.23L115.22 316.37L115.59 317.5L115.96 318.64L116.31 319.76L116.66 320.88L117 322" stroke="#000" stroke-width="1.03"/>
<path d="M35.2 322L35.42 320.81L35.65 319.62L35.89 318.43L36.14 317.24L36.4 316.05L36.66 314.87L36.93 313.69L37.2 312.51L37.49 311.32L37.78 310.15L38.07 308.97L38.37 307.79L38.68 306.62L38.99 305.44L39.3 304.27L39.62 303.1L39.94 301.93L40.27 300.76L40.6 299.59L40.93 298.42L41.26 297.26L41.6 296.09L41.94 294.93L42.28 293.76L42.63 292.6L42.98 291.44L43.33 290.28L43.7 289.13L44.08 287.98L44.46 286.83L44.86 285.69L45.28 284.55L45.71 283.42L46.16 282.29L46.63 281.17L47.11 280.06L47.62 278.95L48.16 277.85L48.71 276.76L49.3 275.69L49.92 274.63L50.57 273.59L51.26 272.58L52 271.6L52.77 270.66L53.6 269.76L54.47 268.92L55.4 268.15L56.39 267.45L57.42 266.85L58.52 266.36L59.66 265.97L60.84 265.67L62.04 265.47L63.27 265.35L64.49 265.31L65.73 265.34L66.95 265.45L68.16 265.61L69.36 265.84L70.53 266.12L71.69 266.46L72.84 266.85L73.96 267.28L75.08 267.76L76.17 268.28L77.25 268.84L78.32 269.44L79.37 270.07L80.4 270.73L81.43 271.41L82.43 272.12L83.43 272.85L84.41 273.6L85.38 274.37L86.34 275.14L87.28 275.93L88.21 276.72L89.13 277.52L90.04 278.33L90.93 279.15L91.81 279.97L92.68 280.81L93.53 281.66L94.36 282.52L95.18 283.39L95.98 284.27L96.77 285.17L97.53 286.08L98.28 287.01L99.01 287.96L99.71 288.92L100.4 289.9" stroke="#000" stroke-width="1.03" stroke-dasharray="3.5 1.5"/>
<path d="M100.4 289.9L101.07 290.89L101.72 291.9L102.36 292.92L102.98 293.96L103.58 295.01L104.16 296.07L104.73 297.14L105.29 298.23L105.83 299.32L106.36 300.42L106.88 301.53L107.38 302.64L107.87 303.77L108.35 304.89L108.82 306.03L109.28 307.16L109.73 308.31L110.17 309.45L110.6 310.6L111.03 311.74L111.45 312.89L111.86 314.04L112.26 315.18L112.66 316.33L113.06 317.47L113.45 318.61L113.84 319.75L114.22 320.88L114.6 322" stroke="#000" stroke-width="0.99"/>
<path d="M95 322L95.3 230.2L96.35 230.85L97.26 231.69L98.26 232.24L99.44 232.28L100.66 232.25L101.73 232.63L102.68 233.34L103.55 234.22L104.4 235.12L105.22 236.04L106.02 236.99L106.8 237.94L107.55 238.92L108.28 239.91L109 240.91L109.69 241.93L110.37 242.96L111.03 244L111.67 245.05L112.3 246.11L112.92 247.18L113.52 248.25L114.11 249.34L114.69 250.43L115.26 251.52L115.82 252.62L116.38 253.72L116.92 254.82L117.46 255.92L118 257.03L118.52 258.14L119.04 259.25L119.55 260.36L120.06 261.48L120.56 262.59L121.05 263.71L121.54 264.83L122.02 265.96L122.49 267.08L122.96 268.21L123.42 269.34L123.87 270.47L124.32 271.6L124.76 272.74L125.19 273.87L125.62 275.01L126.05 276.15L126.47 277.3L126.88 278.44L127.28 279.59L127.68 280.74L128.08 281.89L128.47 283.04L128.85 284.19L129.23 285.35L129.6 286.5L129.97 287.66L130.33 288.82L130.69 289.99L131.04 291.15L131.38 292.32L131.72 293.48L132.06 294.65L132.39 295.83L132.71 297L133.04 298.17L133.35 299.35L133.66 300.53L133.97 301.71L134.27 302.89L134.57 304.07L134.86 305.26L135.15 306.44L135.43 307.63L135.71 308.82L135.98 310.01L136.25 311.2L136.52 312.4L136.78 313.59L137.04 314.79L137.29 315.99L137.54 317.19L137.79 318.39L138.03 319.59L138.27 320.79L138.5 322" stroke="#4169e1" stroke-width="1.08"/>
<path d="M95 322L95.3 230.2L96.35 230.85L97.26 231.69L98.26 232.24L99.44 232.28L100.66 232.25L101.73 232.63L102.68 233.34L103.55 234.22L104.4 235.12L105.22 236.04L106.02 236.99L106.8 237.94L107.55 238.92L108.28 239.91L109 240.91L109.69 241.93L110.37 242.96L111.03 244L111.67 245.05L112.3 246.11L112.92 247.18L113.52 248.25L114.11 249.34L114.69 250.43L115.26 251.52L115.82 252.62L116.38 253.72L116.92 254.82L117.46 255.92L118 257.03L118.52 258.14L119.04 259.25L119.55 260.36L120.06 261.48L120.56 262.59L121.05 263.71L121.54 264.83L122.02 265.96L122.49 267.08L122.96 268.21L123.42 269.34L123.87 270.47L124.32 271.6L124.76 272.74L125.19 273.87L125.62 275.01L126.05 276.15L126.47 277.3L126.88 278.44L127.28 279.59L127.68 280.74L128.08 281.89L128.47 283.04L128.85 284.19L129.23 285.35L129.6 286.5L129.97 287.66L130.33 288.82L130.69 289.99L131.04 291.15L131.38 292.32L131.72 293.48L132.06 294.65L132.39 295.83L132.71 297L133.04 298.17L133.35 299.35L133.66 300.53L133.97 301.71L134.27 302.89L134.57 304.07L134.86 305.26L135.15 306.44L135.43 307.63L135.71 308.82L135.98 310.01L136.25 311.2L136.52 312.4L136.78 313.59L137.04 314.79L137.29 315.99L137.54 317.19L137.79 318.39L138.03 319.59L138.27 320.79L138.5 322" stroke="#4169e1" stroke-width="1.08" stroke-dasharray="3.5 1.5" stroke-opacity="0.6"/>
</g>
<g clip-path="url(#cp11)" fill="none" stroke-linejoin="round">
<path d="M207.6 322L207.6 253.4L207.82 252.21L208.03 251.02L208.23 249.83L208.43 248.64L208.62 247.45L208.8 246.25L208.99 245.06L209.18 243.86L209.37 242.67L209.57 241.47L209.77 240.28L209.99 239.09L210.21 237.9L210.44 236.71L210.7 235.53L210.96 234.35L211.25 233.18L211.55 232L211.87 230.84L212.2 229.67L212.54 228.51L212.9 227.36L213.26 226.2L213.63 225.05L214.01 223.91L214.39 222.76L214.77 221.62L215.16 220.49L215.54 219.35L215.93 218.22L216.33 217.09L216.74 215.96L217.15 214.82L217.58 213.69L218.03 212.55L218.49 211.41L218.98 210.26L219.49 209.12L220.05 208L220.66 206.93L221.34 205.93L222.1 205.02L222.96 204.22L223.91 203.53L224.94 202.98L226.04 202.56L227.2 202.26L228.4 202.06L229.62 201.95L230.86 201.9L232.09 201.89L233.32 201.92L234.54 201.97L235.76 202.05L236.97 202.13L238.17 202.2L239.37 202.29L240.57 202.38L241.76 202.49L242.95 202.61L244.15 202.77L245.34 202.95L246.53 203.15L247.72 203.39L248.91 203.65L250.1 203.94L251.27 204.26L252.45 204.6L253.61 204.97L254.76 205.37L255.91 205.8L257.04 206.25L258.16 206.73L259.26 207.24L260.35 207.77L261.42 208.32L262.48 208.91L263.51 209.52L264.52 210.15L265.52 210.81L266.49 211.5L267.45 212.21L268.39 212.94L269.31 213.69L270.21 214.47L271.09 215.26L271.95 216.08L272.8 216.92L273.63 217.77L274.44 218.65L275.24 219.54L276.02 220.45L276.78 221.38L277.53 222.32L278.26 223.28L278.97 224.26L279.68 225.24L280.36 226.24L281.03 227.26L281.69 228.28L282.33 229.32L282.96 230.37L283.57 231.43L284.18 232.5L284.77 233.58L285.34 234.66L285.9 235.76L286.45 236.86L286.99 237.97L287.52 239.08L288.04 240.2L288.54 241.33L289.03 242.45L289.52 243.59L289.99 244.72L290.45 245.86L290.9 246.99L291.35 248.13L291.78 249.27L292.2 250.42L292.62 251.56L293.02 252.7L293.42 253.85L293.81 254.99L294.19 256.14L294.56 257.29L294.93 258.44L295.29 259.59L295.64 260.74L295.98 261.89L296.31 263.05L296.64 264.2L296.97 265.36L297.28 266.52L297.59 267.68L297.9 268.84L298.2 270L298.49 271.16L298.78 272.32L299.06 273.49L299.34 274.65L299.61 275.82L299.88 276.98L300.14 278.15L300.4 279.32L300.66 280.49L300.91 281.66L301.16 282.83L301.41 284.01L301.66 285.18L301.9 286.35L302.14 287.53L302.37 288.71L302.61 289.88L302.84 291.06L303.07 292.24L303.3 293.42L303.53 294.6L303.75 295.79L303.98 296.97L304.2 298.15L304.43 299.34L304.65 300.52L304.88 301.71L305.1 302.9L305.33 304.08L305.55 305.27L305.78 306.46L306.01 307.65L306.24 308.84L306.47 310.04L306.7 311.23L306.93 312.42L307.17 313.62L307.41 314.81L307.65 316.01L307.89 317.21L308.14 318.4L308.39 319.6L308.64 320.8L308.9 322" stroke="#000" stroke-width="1.03"/>
<path d="M203.5 264.3L203.78 263.11L204.06 261.92L204.34 260.74L204.63 259.56L204.92 258.38L205.22 257.21L205.51 256.03L205.81 254.86L206.12 253.7L206.42 252.53L206.73 251.37L207.05 250.21L207.36 249.05L207.68 247.89L208.01 246.73L208.34 245.57L208.67 244.41L209 243.26L209.34 242.1L209.68 240.94L210.02 239.78L210.37 238.62L210.72 237.46L211.08 236.3L211.44 235.14L211.8 233.98L212.17 232.81L212.54 231.64L212.93 230.48L213.32 229.32L213.73 228.17L214.16 227.03L214.61 225.89L215.07 224.77L215.57 223.66L216.09 222.57L216.64 221.5L217.22 220.44L217.84 219.41L218.49 218.4L219.19 217.41L219.93 216.46L220.71 215.53L221.54 214.63L222.42 213.78L223.34 212.98L224.3 212.25L225.32 211.6L226.37 211.04L227.46 210.57L228.58 210.18L229.74 209.86L230.92 209.61L232.11 209.42L233.33 209.28L234.56 209.19L235.79 209.14L237.03 209.12L238.27 209.13L239.5 209.16L240.72 209.2L241.93 209.26L243.13 209.33L244.33 209.43L245.52 209.56L246.71 209.72L247.9 209.91L249.08 210.13L250.26 210.39L251.44 210.69L252.61 211.02L253.78 211.38L254.93 211.77L256.07 212.2L257.2 212.65L258.31 213.14L259.4 213.65L260.48 214.19L261.54 214.77L262.57 215.37L263.59 215.99L264.58 216.64L265.56 217.32L266.52 218.02L267.46 218.75L268.38 219.49" stroke="#000" stroke-width="1.03" stroke-dasharray="3.5 1.5"/>
<path d="M268.38 219.49L269.28 220.27L270.17 221.06L271.03 221.87L271.88 222.71L272.71 223.57L273.53 224.44L274.33 225.33L275.11 226.24L275.88 227.17L276.63 228.12L277.36 229.08L278.08 230.06L278.78 231.05L279.47 232.05L280.15 233.07L280.81 234.1L281.45 235.15L282.08 236.2L282.7 237.26L283.31 238.34L283.9 239.42L284.48 240.52L285.05 241.62L285.6 242.73L286.15 243.84L286.68 244.96L287.2 246.09L287.71 247.22L288.21 248.35L288.69 249.49L289.17 250.63L289.64 251.77L290.1 252.92L290.54 254.06L290.98 255.2L291.41 256.35L291.83 257.49L292.25 258.64L292.65 259.79L293.04 260.93L293.43 262.08L293.81 263.23L294.18 264.38L294.55 265.52L294.9 266.67L295.25 267.82L295.59 268.97L295.93 270.13L296.26 271.28L296.58 272.43L296.9 273.59L297.21 274.74L297.52 275.9L297.82 277.05L298.11 278.21L298.4 279.37L298.68 280.53L298.96 281.69L299.24 282.85L299.51 284.01L299.78 285.18L300.04 286.34L300.3 287.51L300.55 288.68L300.81 289.84L301.06 291.01L301.3 292.19L301.55 293.36L301.79 294.53L302.03 295.71L302.26 296.89L302.5 298.06L302.73 299.24L302.96 300.43L303.19 301.61L303.42 302.79L303.65 303.98L303.88 305.17L304.1 306.36L304.33 307.55L304.56 308.74L304.78 309.94L305.01 311.14L305.24 312.34L305.47 313.54L305.7 314.74L305.93 315.94L306.16 317.15L306.39 318.36L306.63 319.57L306.86 320.78L307.1 322" stroke="#000" stroke-width="0.99"/>
<path d="M263.1 322L263.3 172.6L264.49 173L265.58 172.72L266.64 172.13L267.76 171.6L268.96 171.33L270.18 171.32L271.35 171.54L272.47 171.95L273.55 172.51L274.59 173.19L275.6 173.95L276.58 174.77L277.54 175.6L278.48 176.44L279.4 177.3L280.3 178.16L281.18 179.04L282.04 179.93L282.88 180.83L283.71 181.74L284.52 182.65L285.31 183.58L286.09 184.52L286.85 185.47L287.59 186.42L288.32 187.39L289.04 188.36L289.74 189.34L290.42 190.33L291.1 191.33L291.76 192.33L292.41 193.34L293.05 194.36L293.67 195.38L294.29 196.41L294.89 197.44L295.48 198.48L296.07 199.53L296.64 200.58L297.21 201.63L297.77 202.69L298.32 203.76L298.86 204.83L299.4 205.9L299.92 206.97L300.44 208.05L300.96 209.14L301.46 210.22L301.96 211.32L302.45 212.41L302.93 213.51L303.41 214.61L303.88 215.72L304.34 216.83L304.8 217.94L305.25 219.05L305.69 220.17L306.13 221.29L306.56 222.42L306.98 223.55L307.4 224.68L307.81 225.81L308.21 226.95L308.61 228.09L309 229.23L309.39 230.38L309.77 231.53L310.15 232.68L310.51 233.83L310.88 234.99L311.24 236.14L311.59 237.3L311.94 238.47L312.28 239.63L312.62 240.8L312.95 241.97L313.28 243.14L313.6 244.31L313.92 245.49L314.24 246.66L314.54 247.84L314.85 249.02L315.15 250.21L315.44 251.39L315.74 252.58L316.02 253.76L316.31 254.95L316.59 256.14L316.86 257.33L317.13 258.53L317.4 259.72L317.66 260.91L317.92 262.11L318.18 263.31L318.43 264.51L318.68 265.7L318.93 266.9L319.17 268.1L319.41 269.31L319.65 270.51L319.89 271.71L320.12 272.91L320.35 274.12L320.57 275.32L320.8 276.53L321.02 277.73L321.24 278.94L321.45 280.14L321.67 281.35L321.88 282.55L322.09 283.76L322.3 284.97L322.5 286.17L322.71 287.38L322.91 288.58L323.11 289.79L323.31 290.99L323.51 292.2L323.7 293.4L323.9 294.6L324.09 295.8L324.28 297.01L324.47 298.21L324.66 299.41L324.85 300.61L325.04 301.81L325.23 303.01L325.42 304.2L325.6 305.4L325.79 306.59L325.97 307.79L326.16 308.98L326.34 310.17L326.53 311.36L326.71 312.55L326.9 313.74L327.08 314.92L327.27 316.11L327.45 317.29L327.64 318.47L327.83 319.65L328.01 320.82L328.2 322" stroke="#4169e1" stroke-width="1.08"/>
<path d="M263.1 322L263.3 172.6L264.49 173L265.58 172.72L266.64 172.13L267.76 171.6L268.96 171.33L270.18 171.32L271.35 171.54L272.47 171.95L273.55 172.51L274.59 173.19L275.6 173.95L276.58 174.77L277.54 175.6L278.48 176.44L279.4 177.3L280.3 178.16L281.18 179.04L282.04 179.93L282.88 180.83L283.71 181.74L284.52 182.65L285.31 183.58L286.09 184.52L286.85 185.47L287.59 186.42L288.32 187.39L289.04 188.36L289.74 189.34L290.42 190.33L291.1 191.33L291.76 192.33L292.41 193.34L293.05 194.36L293.67 195.38L294.29 196.41L294.89 197.44L295.48 198.48L296.07 199.53L296.64 200.58L297.21 201.63L297.77 202.69L298.32 203.76L298.86 204.83L299.4 205.9L299.92 206.97L300.44 208.05L300.96 209.14L301.46 210.22L301.96 211.32L302.45 212.41L302.93 213.51L303.41 214.61L303.88 215.72L304.34 216.83L304.8 217.94L305.25 219.05L305.69 220.17L306.13 221.29L306.56 222.42L306.98 223.55L307.4 224.68L307.81 225.81L308.21 226.95L308.61 228.09L309 229.23L309.39 230.38L309.77 231.53L310.15 232.68L310.51 233.83L310.88 234.99L311.24 236.14L311.59 237.3L311.94 238.47L312.28 239.63L312.62 240.8L312.95 241.97L313.28 243.14L313.6 244.31L313.92 245.49L314.24 246.66L314.54 247.84L314.85 249.02L315.15 250.21L315.44 251.39L315.74 252.58L316.02 253.76L316.31 254.95L316.59 256.14L316.86 257.33L317.13 258.53L317.4 259.72L317.66 260.91L317.92 262.11L318.18 263.31L318.43 264.51L318.68 265.7L318.93 266.9L319.17 268.1L319.41 269.31L319.65 270.51L319.89 271.71L320.12 272.91L320.35 274.12L320.57 275.32L320.8 276.53L321.02 277.73L321.24 278.94L321.45 280.14L321.67 281.35L321.88 282.55L322.09 283.76L322.3 284.97L322.5 286.17L322.71 287.38L322.91 288.58L323.11 289.79L323.31 290.99L323.51 292.2L323.7 293.4L323.9 294.6L324.09 295.8L324.28 297.01L324.47 298.21L324.66 299.41L324.85 300.61L325.04 301.81L325.23 303.01L325.42 304.2L325.6 305.4L325.79 306.59L325.97 307.79L326.16 308.98L326.34 310.17L326.53 311.36L326.71 312.55L326.9 313.74L327.08 314.92L327.27 316.11L327.45 317.29L327.64 318.47L327.83 319.65L328.01 320.82L328.2 322" stroke="#4169e1" stroke-width="1.08" stroke-dasharray="3.5 1.5" stroke-opacity="0.6"/>
</g>
<g clip-path="url(#cp12)" fill="none" stroke-linejoin="round">
<path d="M375.3 322L375.3 282.6L375.45 281.4L375.62 280.21L375.8 279.01L375.99 277.82L376.2 276.63L376.43 275.44L376.67 274.25L376.92 273.07L377.18 271.89L377.46 270.71L377.75 269.53L378.05 268.35L378.36 267.18L378.68 266.01L379.01 264.85L379.35 263.69L379.7 262.53L380.06 261.37L380.43 260.22L380.81 259.07L381.19 257.93L381.58 256.79L381.98 255.65L382.38 254.52L382.79 253.39L383.2 252.27L383.62 251.15L384.05 250.03L384.47 248.91L384.9 247.78L385.34 246.66L385.77 245.52L386.21 244.38L386.65 243.23L387.09 242.06L387.54 240.9L388.02 239.75L388.55 238.64L389.14 237.58L389.82 236.6L390.6 235.7L391.48 234.91L392.46 234.24L393.51 233.71L394.64 233.31L395.82 233.03L397.04 232.82L398.26 232.67L399.49 232.53L400.7 232.41L401.91 232.3L403.12 232.19L404.32 232.09L405.52 231.99L406.71 231.88L407.91 231.78L409.11 231.66L410.31 231.55L411.51 231.43L412.72 231.31L413.92 231.19L415.12 231.08L416.33 230.97L417.53 230.86L418.74 230.77L419.95 230.69L421.15 230.62L422.36 230.56L423.57 230.51L424.77 230.48L425.98 230.46L427.19 230.45L428.4 230.46L429.61 230.49L430.82 230.54L432.03 230.6L433.24 230.69L434.45 230.79L435.66 230.92L436.87 231.07L438.07 231.25L439.27 231.46L440.45 231.71L441.62 232L442.76 232.34L443.89 232.74L444.99 233.18L446.07 233.68L447.12 234.22L448.16 234.8L449.17 235.42L450.17 236.09L451.15 236.79L452.11 237.52L453.05 238.28L453.97 239.08L454.88 239.89L455.78 240.73L456.66 241.6L457.52 242.48L458.37 243.37L459.21 244.28L460.04 245.2L460.85 246.13L461.66 247.06L462.45 247.99L463.24 248.93L464.01 249.88L464.78 250.83L465.53 251.78L466.28 252.73L467.01 253.7L467.73 254.66L468.44 255.63L469.14 256.61L469.83 257.6L470.51 258.58L471.17 259.58L471.83 260.58L472.47 261.59L473.11 262.6L473.73 263.62L474.33 264.65L474.93 265.69L475.52 266.73L476.09 267.79L476.65 268.84L477.2 269.91L477.73 270.98L478.26 272.06L478.78 273.15L479.28 274.24L479.77 275.34L480.25 276.44L480.73 277.55L481.19 278.67L481.64 279.79L482.08 280.92L482.51 282.05L482.93 283.18L483.34 284.33L483.74 285.47L484.13 286.62L484.51 287.77L484.88 288.93L485.25 290.09L485.6 291.25L485.95 292.42L486.29 293.59L486.62 294.76L486.94 295.93L487.25 297.11L487.56 298.29L487.85 299.47L488.14 300.65L488.42 301.84L488.7 303.02L488.96 304.21L489.22 305.4L489.48 306.59L489.72 307.77L489.96 308.96L490.2 310.15L490.42 311.34L490.64 312.53L490.86 313.72L491.07 314.9L491.27 316.09L491.47 317.28L491.66 318.46L491.84 319.64L492.02 320.82L492.2 322" stroke="#000" stroke-width="1.03"/>
<path d="M371 296.1L371.22 294.9L371.47 293.72L371.74 292.53L372.04 291.36L372.34 290.19L372.66 289.02L372.99 287.85L373.33 286.69L373.67 285.53L374.01 284.37L374.35 283.21L374.69 282.04L375.02 280.88L375.34 279.71L375.65 278.54L375.95 277.36L376.24 276.18L376.53 275.01L376.83 273.83L377.12 272.65L377.43 271.48L377.75 270.31L378.08 269.15L378.43 267.99L378.8 266.84L379.2 265.7L379.62 264.57L380.05 263.45L380.51 262.34L380.99 261.23L381.48 260.13L381.99 259.03L382.51 257.93L383.04 256.83L383.57 255.74L384.11 254.64L384.66 253.54L385.21 252.44L385.79 251.35L386.38 250.28L387 249.22L387.66 248.2L388.36 247.21L389.11 246.26L389.92 245.37L390.78 244.52L391.69 243.74L392.65 243.03L393.67 242.4L394.73 241.85L395.84 241.37L396.98 240.95L398.15 240.58L399.33 240.25L400.51 239.96L401.71 239.7L402.9 239.46L404.1 239.24L405.3 239.04L406.5 238.85L407.71 238.67L408.91 238.5L410.11 238.33L411.31 238.16L412.5 238L413.7 237.84L414.9 237.69L416.1 237.54L417.3 237.41L418.5 237.28L419.7 237.16L420.9 237.05L422.11 236.95L423.31 236.87L424.52 236.79L425.74 236.73L426.95 236.69L428.17 236.66L429.39 236.65L430.61 236.67L431.83 236.71L433.05 236.78L434.26 236.89L435.47 237.04L436.66 237.23" stroke="#000" stroke-width="1.03" stroke-dasharray="3.5 1.5"/>
<path d="M436.66 237.23L437.85 237.47L439.03 237.74L440.19 238.05L441.35 238.41L442.49 238.8L443.61 239.23L444.72 239.7L445.82 240.21L446.89 240.75L447.95 241.33L448.99 241.95L450.01 242.6L451 243.29L451.98 244.01L452.93 244.76L453.86 245.55L454.76 246.37L455.63 247.22L456.48 248.11L457.31 249.02L458.11 249.95L458.9 250.9L459.67 251.87L460.43 252.86L461.17 253.86L461.9 254.86L462.63 255.88L463.35 256.89L464.07 257.91L464.78 258.92L465.5 259.92L466.22 260.92L466.94 261.91L467.67 262.88L468.39 263.86L469.11 264.83L469.82 265.81L470.52 266.79L471.2 267.78L471.88 268.78L472.54 269.79L473.19 270.81L473.82 271.83L474.45 272.86L475.06 273.89L475.66 274.94L476.24 275.99L476.82 277.05L477.38 278.11L477.93 279.18L478.47 280.26L479 281.34L479.52 282.43L480.02 283.52L480.51 284.62L480.99 285.73L481.46 286.84L481.92 287.96L482.37 289.08L482.8 290.21L483.23 291.34L483.64 292.47L484.04 293.61L484.43 294.76L484.81 295.91L485.18 297.06L485.54 298.22L485.89 299.38L486.22 300.55L486.55 301.72L486.86 302.89L487.17 304.07L487.46 305.24L487.74 306.43L488.02 307.61L488.28 308.8L488.53 309.99L488.77 311.18L489 312.38L489.23 313.57L489.44 314.77L489.64 315.97L489.83 317.18L490.01 318.38L490.18 319.59L490.35 320.79L490.5 322" stroke="#000" stroke-width="0.99"/>
<path d="M430.7 322L430.9 202.4L431.89 201.71L432.82 200.95L433.73 200.15L434.65 199.36L435.59 198.6L436.58 197.91L437.62 197.3L438.71 196.79L439.84 196.36L441 196.03L442.19 195.78L443.39 195.61L444.61 195.52L445.83 195.5L447.06 195.56L448.29 195.67L449.51 195.85L450.72 196.08L451.92 196.36L453.1 196.68L454.25 197.04L455.39 197.45L456.5 197.9L457.6 198.38L458.67 198.9L459.73 199.46L460.76 200.05L461.78 200.67L462.78 201.33L463.76 202.01L464.72 202.72L465.66 203.46L466.59 204.23L467.5 205.02L468.4 205.84L469.28 206.67L470.14 207.53L470.99 208.41L471.82 209.3L472.64 210.21L473.44 211.14L474.23 212.08L475.01 213.03L475.78 214L476.53 214.97L477.27 215.95L477.99 216.94L478.71 217.94L479.41 218.94L480.11 219.95L480.79 220.96L481.46 221.98L482.12 223L482.77 224.03L483.41 225.06L484.03 226.1L484.65 227.14L485.26 228.19L485.86 229.24L486.44 230.3L487.02 231.36L487.59 232.42L488.14 233.49L488.69 234.57L489.23 235.65L489.76 236.73L490.28 237.81L490.79 238.9L491.29 240L491.78 241.1L492.26 242.2L492.74 243.3L493.2 244.41L493.66 245.53L494.11 246.64L494.55 247.76L494.98 248.89L495.41 250.01L495.82 251.14L496.23 252.28L496.63 253.41L497.03 254.55L497.42 255.69L497.79 256.84L498.17 257.98L498.53 259.13L498.89 260.29L499.24 261.44L499.58 262.6L499.92 263.76L500.25 264.92L500.58 266.09L500.9 267.25L501.21 268.42L501.52 269.59L501.82 270.76L502.11 271.94L502.4 273.12L502.68 274.29L502.96 275.47L503.23 276.66L503.5 277.84L503.76 279.02L504.02 280.21L504.27 281.4L504.52 282.58L504.77 283.77L505 284.96L505.24 286.16L505.47 287.35L505.69 288.54L505.92 289.73L506.13 290.93L506.35 292.13L506.56 293.32L506.77 294.52L506.97 295.71L507.17 296.91L507.37 298.11L507.56 299.31L507.75 300.5L507.94 301.7L508.12 302.9L508.3 304.1L508.48 305.29L508.66 306.49L508.84 307.69L509.01 308.89L509.18 310.08L509.35 311.28L509.52 312.47L509.68 313.67L509.85 314.86L510.01 316.05L510.17 317.24L510.33 318.43L510.49 319.62L510.64 320.81L510.8 322" stroke="#4169e1" stroke-width="1.08"/>
<path d="M430.7 322L430.9 202.4L431.89 201.71L432.82 200.95L433.73 200.15L434.65 199.36L435.59 198.6L436.58 197.91L437.62 197.3L438.71 196.79L439.84 196.36L441 196.03L442.19 195.78L443.39 195.61L444.61 195.52L445.83 195.5L447.06 195.56L448.29 195.67L449.51 195.85L450.72 196.08L451.92 196.36L453.1 196.68L454.25 197.04L455.39 197.45L456.5 197.9L457.6 198.38L458.67 198.9L459.73 199.46L460.76 200.05L461.78 200.67L462.78 201.33L463.76 202.01L464.72 202.72L465.66 203.46L466.59 204.23L467.5 205.02L468.4 205.84L469.28 206.67L470.14 207.53L470.99 208.41L471.82 209.3L472.64 210.21L473.44 211.14L474.23 212.08L475.01 213.03L475.78 214L476.53 214.97L477.27 215.95L477.99 216.94L478.71 217.94L479.41 218.94L480.11 219.95L480.79 220.96L481.46 221.98L482.12 223L482.77 224.03L483.41 225.06L484.03 226.1L484.65 227.14L485.26 228.19L485.86 229.24L486.44 230.3L487.02 231.36L487.59 232.42L488.14 233.49L488.69 234.57L489.23 235.65L489.76 236.73L490.28 237.81L490.79 238.9L491.29 240L491.78 241.1L492.26 242.2L492.74 243.3L493.2 244.41L493.66 245.53L494.11 246.64L494.55 247.76L494.98 248.89L495.41 250.01L495.82 251.14L496.23 252.28L496.63 253.41L497.03 254.55L497.42 255.69L497.79 256.84L498.17 257.98L498.53 259.13L498.89 260.29L499.24 261.44L499.58 262.6L499.92 263.76L500.25 264.92L500.58 266.09L500.9 267.25L501.21 268.42L501.52 269.59L501.82 270.76L502.11 271.94L502.4 273.12L502.68 274.29L502.96 275.47L503.23 276.66L503.5 277.84L503.76 279.02L504.02 280.21L504.27 281.4L504.52 282.58L504.77 283.77L505 284.96L505.24 286.16L505.47 287.35L505.69 288.54L505.92 289.73L506.13 290.93L506.35 292.13L506.56 293.32L506.77 294.52L506.97 295.71L507.17 296.91L507.37 298.11L507.56 299.31L507.75 300.5L507.94 301.7L508.12 302.9L508.3 304.1L508.48 305.29L508.66 306.49L508.84 307.69L509.01 308.89L509.18 310.08L509.35 311.28L509.52 312.47L509.68 313.67L509.85 314.86L510.01 316.05L510.17 317.24L510.33 318.43L510.49 319.62L510.64 320.81L510.8 322" stroke="#4169e1" stroke-width="1.08" stroke-dasharray="3.5 1.5" stroke-opacity="0.6"/>
</g>
<g clip-path="url(#cp13)" fill="none" stroke-linejoin="round">
<path d="M543.3 322L543.3 306.6L543.54 305.41L543.8 304.23L544.06 303.05L544.34 301.87L544.62 300.69L544.91 299.51L545.21 298.34L545.51 297.16L545.83 295.99L546.15 294.82L546.47 293.65L546.81 292.49L547.14 291.32L547.49 290.16L547.84 289L548.19 287.84L548.55 286.68L548.91 285.52L549.28 284.37L549.64 283.21L550.01 282.06L550.39 280.91L550.76 279.77L551.14 278.62L551.53 277.47L551.92 276.33L552.31 275.18L552.7 274.03L553.11 272.89L553.52 271.74L553.93 270.59L554.36 269.45L554.82 268.32L555.3 267.2L555.82 266.09L556.38 265.01L556.99 263.95L557.66 262.93L558.4 261.95L559.21 261.05L560.1 260.25L561.09 259.59L562.16 259.06L563.3 258.66L564.47 258.36L565.67 258.13L566.87 257.96L568.09 257.83L569.3 257.72L570.52 257.63L571.74 257.52L572.95 257.38L574.16 257.23L575.36 257.06L576.56 256.87L577.76 256.68L578.96 256.48L580.15 256.28L581.35 256.09L582.54 255.91L583.74 255.74L584.93 255.57L586.13 255.41L587.33 255.25L588.52 255.1L589.72 254.95L590.92 254.81L592.12 254.67L593.32 254.53L594.52 254.39L595.72 254.25L596.93 254.11L598.13 253.97L599.34 253.83L600.55 253.69L601.76 253.55L602.98 253.41L604.19 253.28L605.4 253.15L606.62 253.04L607.83 252.94L609.04 252.85L610.26 252.77L611.47 252.72L612.68 252.69L613.89 252.67L615.09 252.69L616.3 252.73L617.5 252.8L618.69 252.91L619.89 253.05L621.08 253.22L622.26 253.43L623.44 253.68L624.62 253.97L625.78 254.29L626.94 254.65L628.09 255.05L629.23 255.47L630.36 255.93L631.47 256.43L632.58 256.95L633.66 257.51L634.74 258.09L635.79 258.71L636.83 259.35L637.85 260.03L638.86 260.73L639.84 261.45L640.8 262.21L641.73 262.98L642.65 263.79L643.54 264.61L644.41 265.46L645.24 266.33L646.06 267.23L646.84 268.14L647.6 269.07L648.33 270.03L649.04 271L649.73 271.98L650.39 272.99L651.03 274.01L651.66 275.04L652.26 276.09L652.85 277.15L653.42 278.22L653.98 279.3L654.52 280.39L655.06 281.49L655.57 282.6L656.08 283.71L656.58 284.83L657.07 285.96L657.55 287.09L658.03 288.22L658.5 289.35L658.97 290.49L659.44 291.62L659.9 292.76L660.36 293.9L660.83 295.03L661.29 296.16L661.76 297.28L662.23 298.4L662.71 299.51L663.19 300.62L663.68 301.72L664.17 302.81L664.67 303.9L665.16 304.99L665.66 306.08L666.15 307.17L666.63 308.26L667.11 309.35L667.58 310.45L668.03 311.56L668.48 312.67L668.91 313.79L669.33 314.92L669.73 316.06L670.11 317.22L670.47 318.39L670.8 319.58L671.11 320.78L671.4 322" stroke="#000" stroke-width="1.03"/>
<path d="M539 322L539.18 320.8L539.39 319.6L539.61 318.41L539.85 317.22L540.1 316.04L540.37 314.86L540.66 313.68L540.96 312.51L541.27 311.34L541.59 310.17L541.93 309.01L542.27 307.85L542.62 306.69L542.99 305.54L543.36 304.39L543.74 303.24L544.12 302.09L544.51 300.94L544.9 299.79L545.3 298.65L545.7 297.5L546.1 296.36L546.5 295.22L546.9 294.07L547.31 292.93L547.71 291.79L548.11 290.65L548.51 289.5L548.91 288.36L549.3 287.22L549.7 286.08L550.09 284.94L550.49 283.8L550.91 282.67L551.33 281.53L551.78 280.41L552.25 279.29L552.75 278.18L553.27 277.08L553.83 276L554.42 274.93L555.05 273.88L555.71 272.85L556.42 271.85L557.18 270.9L557.99 270L558.85 269.16L559.77 268.39L560.76 267.69L561.79 267.07L562.86 266.52L563.97 266.04L565.11 265.61L566.26 265.24L567.43 264.92L568.62 264.64L569.81 264.39L571 264.16L572.2 263.94L573.4 263.72L574.6 263.5L575.79 263.28L576.99 263.05L578.18 262.83L579.37 262.6L580.56 262.38L581.75 262.16L582.94 261.94L584.12 261.72L585.31 261.51L586.5 261.3L587.69 261.1L588.89 260.91L590.08 260.73L591.27 260.55L592.47 260.38L593.67 260.23L594.87 260.08L596.07 259.93L597.28 259.8L598.48 259.67L599.69 259.54L600.89 259.42L602.1 259.3L603.31 259.19" stroke="#000" stroke-width="1.03" stroke-dasharray="3.5 1.5"/>
<path d="M603.31 259.19L604.52 259.08L605.73 258.96L606.93 258.85L608.14 258.74L609.35 258.64L610.56 258.55L611.77 258.49L612.98 258.45L614.19 258.45L615.39 258.48L616.6 258.57L617.8 258.69L619 258.86L620.2 259.07L621.39 259.31L622.57 259.6L623.75 259.92L624.92 260.28L626.07 260.68L627.22 261.11L628.35 261.57L629.47 262.06L630.57 262.59L631.66 263.15L632.73 263.73L633.79 264.34L634.82 264.98L635.84 265.65L636.83 266.34L637.8 267.05L638.75 267.79L639.67 268.55L640.58 269.33L641.46 270.13L642.33 270.96L643.17 271.8L644 272.66L644.8 273.54L645.59 274.44L646.36 275.36L647.11 276.29L647.85 277.24L648.57 278.2L649.27 279.18L649.96 280.17L650.63 281.18L651.29 282.2L651.93 283.23L652.56 284.27L653.18 285.32L653.79 286.38L654.38 287.46L654.96 288.54L655.53 289.63L656.09 290.73L656.64 291.83L657.19 292.94L657.72 294.06L658.24 295.18L658.75 296.31L659.26 297.44L659.76 298.57L660.26 299.71L660.74 300.85L661.23 301.99L661.7 303.13L662.17 304.27L662.64 305.41L663.11 306.55L663.57 307.69L664.03 308.82L664.48 309.95L664.94 311.08L665.39 312.2L665.84 313.32L666.3 314.43L666.75 315.54L667.2 316.63L667.66 317.72L668.12 318.81L668.57 319.88L669.04 320.95L669.5 322" stroke="#000" stroke-width="0.99"/>
<path d="M598.4 322L598.5 227.8L599.43 227.01L600.36 226.19L601.28 225.36L602.21 224.55L603.16 223.76L604.14 223L605.14 222.28L606.17 221.62L607.24 221.02L608.34 220.48L609.47 220L610.61 219.57L611.79 219.2L612.98 218.88L614.18 218.61L615.4 218.37L616.62 218.16L617.85 217.98L619.08 217.82L620.3 217.67L621.53 217.54L622.76 217.44L623.99 217.36L625.22 217.32L626.45 217.3L627.69 217.31L628.92 217.36L630.15 217.45L631.38 217.57L632.6 217.72L633.82 217.92L635.02 218.15L636.22 218.43L637.41 218.75L638.58 219.11L639.75 219.51L640.89 219.96L642.02 220.45L643.14 220.98L644.24 221.55L645.32 222.15L646.39 222.78L647.44 223.44L648.48 224.12L649.5 224.83L650.5 225.55L651.48 226.29L652.45 227.04L653.4 227.8L654.08 228.82L654.77 229.83L655.45 230.85L656.14 231.86L656.82 232.88L657.5 233.9L658.18 234.93L658.85 235.95L659.52 236.98L660.18 238.02L660.84 239.05L661.49 240.09L662.14 241.13L662.77 242.18L663.4 243.22L664.03 244.28L664.64 245.33L665.24 246.39L665.84 247.46L666.42 248.53L667 249.6L667.56 250.67L668.12 251.76L668.66 252.84L669.19 253.93L669.71 255.03L670.21 256.13L670.7 257.24L671.17 258.35L671.63 259.46L672.08 260.59L672.51 261.71L672.93 262.85L673.33 263.99L673.72 265.13L674.09 266.28L674.45 267.43L674.8 268.59L675.13 269.75L675.45 270.92L675.76 272.09L676.05 273.26L676.33 274.44L676.6 275.62L676.86 276.81L677.11 278L677.34 279.19L677.56 280.39L677.77 281.58L677.97 282.79L678.16 283.99L678.34 285.2L678.51 286.41L678.67 287.62L678.82 288.84L678.96 290.05L679.08 291.27L679.2 292.49L679.32 293.72L679.42 294.94L679.51 296.17L679.6 297.39L679.67 298.62L679.74 299.85L679.8 301.08L679.85 302.31L679.9 303.54L679.94 304.78L679.97 306.01L680 307.24L680.01 308.47L680.03 309.71L680.03 310.94L680.03 312.17L680.03 313.4L680.02 314.63L680 315.86L679.98 317.09L679.95 318.32L679.92 319.55L679.89 320.78L679.85 322" stroke="#4169e1" stroke-width="1.08"/>
<path d="M598.4 322L598.5 227.8L599.43 227.01L600.36 226.19L601.28 225.36L602.21 224.55L603.16 223.76L604.14 223L605.14 222.28L606.17 221.62L607.24 221.02L608.34 220.48L609.47 220L610.61 219.57L611.79 219.2L612.98 218.88L614.18 218.61L615.4 218.37L616.62 218.16L617.85 217.98L619.08 217.82L620.3 217.67L621.53 217.54L622.76 217.44L623.99 217.36L625.22 217.32L626.45 217.3L627.69 217.31L628.92 217.36L630.15 217.45L631.38 217.57L632.6 217.72L633.82 217.92L635.02 218.15L636.22 218.43L637.41 218.75L638.58 219.11L639.75 219.51L640.89 219.96L642.02 220.45L643.14 220.98L644.24 221.55L645.32 222.15L646.39 222.78L647.44 223.44L648.48 224.12L649.5 224.83L650.5 225.55L651.48 226.29L652.45 227.04L653.4 227.8L654.08 228.82L654.77 229.83L655.45 230.85L656.14 231.86L656.82 232.88L657.5 233.9L658.18 234.93L658.85 235.95L659.52 236.98L660.18 238.02L660.84 239.05L661.49 240.09L662.14 241.13L662.77 242.18L663.4 243.22L664.03 244.28L664.64 245.33L665.24 246.39L665.84 247.46L666.42 248.53L667 249.6L667.56 250.67L668.12 251.76L668.66 252.84L669.19 253.93L669.71 255.03L670.21 256.13L670.7 257.24L671.17 258.35L671.63 259.46L672.08 260.59L672.51 261.71L672.93 262.85L673.33 263.99L673.72 265.13L674.09 266.28L674.45 267.43L674.8 268.59L675.13 269.75L675.45 270.92L675.76 272.09L676.05 273.26L676.33 274.44L676.6 275.62L676.86 276.81L677.11 278L677.34 279.19L677.56 280.39L677.77 281.58L677.97 282.79L678.16 283.99L678.34 285.2L678.51 286.41L678.67 287.62L678.82 288.84L678.96 290.05L679.08 291.27L679.2 292.49L679.32 293.72L679.42 294.94L679.51 296.17L679.6 297.39L679.67 298.62L679.74 299.85L679.8 301.08L679.85 302.31L679.9 303.54L679.94 304.78L679.97 306.01L680 307.24L680.01 308.47L680.03 309.71L680.03 310.94L680.03 312.17L680.03 313.4L680.02 314.63L680 315.86L679.98 317.09L679.95 318.32L679.92 319.55L679.89 320.78L679.85 322" stroke="#4169e1" stroke-width="1.08" stroke-dasharray="3.5 1.5" stroke-opacity="0.6"/>
</g>
<path d="M56.78 160.7L56.78 157.7M56.78 0.3L56.78 3.3M96.95 160.7L96.95 157.7M96.95 0.3L96.95 3.3M137.12 160.7L137.12 157.7M137.12 0.3L137.12 3.3M177.28 160.7L177.28 157.7M177.28 0.3L177.28 3.3M28.7 145.12L31.7 145.12M196.45 145.12L193.45 145.12M28.7 105.97L31.7 105.97M196.45 105.97L193.45 105.97M28.7 66.82L31.7 66.82M196.45 66.82L193.45 66.82M28.7 27.67L31.7 27.67M196.45 27.67L193.45 27.67M56.78 321.25L56.78 318.25M56.78 160.85L56.78 163.85M96.95 321.25L96.95 318.25M96.95 160.85L96.95 163.85M137.12 321.25L137.12 318.25M137.12 160.85L137.12 163.85M177.28 321.25L177.28 318.25M177.28 160.85L177.28 163.85M28.7 305.67L31.7 305.67M196.45 305.67L193.45 305.67M28.7 266.52L31.7 266.52M196.45 266.52L193.45 266.52M28.7 227.37L31.7 227.37M196.45 227.37L193.45 227.37M28.7 188.22L31.7 188.22M196.45 188.22L193.45 188.22M224.53 160.7L224.53 157.7M224.53 0.3L224.53 3.3M264.7 160.7L264.7 157.7M264.7 0.3L264.7 3.3M304.87 160.7L304.87 157.7M304.87 0.3L304.87 3.3M345.03 160.7L345.03 157.7M345.03 0.3L345.03 3.3M196.45 145.12L199.45 145.12M364.2 145.12L361.2 145.12M196.45 105.97L199.45 105.97M364.2 105.97L361.2 105.97M196.45 66.82L199.45 66.82M364.2 66.82L361.2 66.82M196.45 27.67L199.45 27.67M364.2 27.67L361.2 27.67M224.53 321.25L224.53 318.25M224.53 160.85L224.53 163.85M264.7 321.25L264.7 318.25M264.7 160.85L264.7 163.85M304.87 321.25L304.87 318.25M304.87 160.85L304.87 163.85M345.03 321.25L345.03 318.25M345.03 160.85L345.03 163.85M196.45 305.67L199.45 305.67M364.2 305.67L361.2 305.67M196.45 266.52L199.45 266.52M364.2 266.52L361.2 266.52M196.45 227.37L199.45 227.37M364.2 227.37L361.2 227.37M196.45 188.22L199.45 188.22M364.2 188.22L361.2 188.22M392.28 160.7L392.28 157.7M392.28 0.3L392.28 3.3M432.45 160.7L432.45 157.7M432.45 0.3L432.45 3.3M472.62 160.7L472.62 157.7M472.62 0.3L472.62 3.3M512.78 160.7L512.78 157.7M512.78 0.3L512.78 3.3M364.2 145.12L367.2 145.12M531.95 145.12L528.95 145.12M364.2 105.97L367.2 105.97M531.95 105.97L528.95 105.97M364.2 66.82L367.2 66.82M531.95 66.82L528.95 66.82M364.2 27.67L367.2 27.67M531.95 27.67L528.95 27.67M392.28 321.25L392.28 318.25M392.28 160.85L392.28 163.85M432.45 321.25L432.45 318.25M432.45 160.85L432.45 163.85M472.62 321.25L472.62 318.25M472.62 160.85L472.62 163.85M512.78 321.25L512.78 318.25M512.78 160.85L512.78 163.85M364.2 305.67L367.2 305.67M531.95 305.67L528.95 305.67M364.2 266.52L367.2 266.52M531.95 266.52L528.95 266.52M364.2 227.37L367.2 227.37M531.95 227.37L528.95 227.37M364.2 188.22L367.2 188.22M531.95 188.22L528.95 188.22M560.03 160.7L560.03 157.7M560.03 0.3L560.03 3.3M600.2 160.7L600.2 157.7M600.2 0.3L600.2 3.3M640.37 160.7L640.37 157.7M640.37 0.3L640.37 3.3M680.53 160.7L680.53 157.7M680.53 0.3L680.53 3.3M531.95 145.12L534.95 145.12M699.7 145.12L696.7 145.12M531.95 105.97L534.95 105.97M699.7 105.97L696.7 105.97M531.95 66.82L534.95 66.82M699.7 66.82L696.7 66.82M531.95 27.67L534.95 27.67M699.7 27.67L696.7 27.67M560.03 321.25L560.03 318.25M560.03 160.85L560.03 163.85M600.2 321.25L600.2 318.25M600.2 160.85L600.2 163.85M640.37 321.25L640.37 318.25M640.37 160.85L640.37 163.85M680.53 321.25L680.53 318.25M680.53 160.85L680.53 163.85M531.95 305.67L534.95 305.67M699.7 305.67L696.7 305.67M531.95 266.52L534.95 266.52M699.7 266.52L696.7 266.52M531.95 227.37L534.95 227.37M699.7 227.37L696.7 227.37M531.95 188.22L534.95 188.22M699.7 188.22L696.7 188.22" stroke="#222" stroke-width="0.8" fill="none"/>
<path d="M28.7 160.7L28.7 159.2M28.7 0.3L28.7 1.8M35.77 160.7L35.77 159.2M35.77 0.3L35.77 1.8M40.79 160.7L40.79 159.2M40.79 0.3L40.79 1.8M44.68 160.7L44.68 159.2M44.68 0.3L44.68 1.8M47.87 160.7L47.87 159.2M47.87 0.3L47.87 1.8M50.55 160.7L50.55 159.2M50.55 0.3L50.55 1.8M52.88 160.7L52.88 159.2M52.88 0.3L52.88 1.8M54.94 160.7L54.94 159.2M54.94 0.3L54.94 1.8M68.87 160.7L68.87 159.2M68.87 0.3L68.87 1.8M75.94 160.7L75.94 159.2M75.94 0.3L75.94 1.8M80.96 160.7L80.96 159.2M80.96 0.3L80.96 1.8M84.85 160.7L84.85 159.2M84.85 0.3L84.85 1.8M88.03 160.7L88.03 159.2M88.03 0.3L88.03 1.8M90.72 160.7L90.72 159.2M90.72 0.3L90.72 1.8M93.05 160.7L93.05 159.2M93.05 0.3L93.05 1.8M95.11 160.7L95.11 159.2M95.11 0.3L95.11 1.8M109.04 160.7L109.04 159.2M109.04 0.3L109.04 1.8M116.11 160.7L116.11 159.2M116.11 0.3L116.11 1.8M121.13 160.7L121.13 159.2M121.13 0.3L121.13 1.8M125.02 160.7L125.02 159.2M125.02 0.3L125.02 1.8M128.2 160.7L128.2 159.2M128.2 0.3L128.2 1.8M130.89 160.7L130.89 159.2M130.89 0.3L130.89 1.8M133.22 160.7L133.22 159.2M133.22 0.3L133.22 1.8M135.28 160.7L135.28 159.2M135.28 0.3L135.28 1.8M149.21 160.7L149.21 159.2M149.21 0.3L149.21 1.8M156.28 160.7L156.28 159.2M156.28 0.3L156.28 1.8M161.3 160.7L161.3 159.2M161.3 0.3L161.3 1.8M165.19 160.7L165.19 159.2M165.19 0.3L165.19 1.8M168.37 160.7L168.37 159.2M168.37 0.3L168.37 1.8M171.06 160.7L171.06 159.2M171.06 0.3L171.06 1.8M173.39 160.7L173.39 159.2M173.39 0.3L173.39 1.8M175.45 160.7L175.45 159.2M175.45 0.3L175.45 1.8M189.38 160.7L189.38 159.2M189.38 0.3L189.38 1.8M196.45 160.7L196.45 159.2M196.45 0.3L196.45 1.8M28.7 160.7L30.2 160.7M196.45 160.7L194.95 160.7M28.7 156.91L30.2 156.91M196.45 156.91L194.95 156.91M28.7 153.81L30.2 153.81M196.45 153.81L194.95 153.81M28.7 151.18L30.2 151.18M196.45 151.18L194.95 151.18M28.7 148.91L30.2 148.91M196.45 148.91L194.95 148.91M28.7 146.91L30.2 146.91M196.45 146.91L194.95 146.91M28.7 133.33L30.2 133.33M196.45 133.33L194.95 133.33M28.7 126.44L30.2 126.44M196.45 126.44L194.95 126.44M28.7 121.55L30.2 121.55M196.45 121.55L194.95 121.55M28.7 117.75L30.2 117.75M196.45 117.75L194.95 117.75M28.7 114.65L30.2 114.65M196.45 114.65L194.95 114.65M28.7 112.03L30.2 112.03M196.45 112.03L194.95 112.03M28.7 109.76L30.2 109.76M196.45 109.76L194.95 109.76M28.7 107.76L30.2 107.76M196.45 107.76L194.95 107.76M28.7 94.18L30.2 94.18M196.45 94.18L194.95 94.18M28.7 87.29L30.2 87.29M196.45 87.29L194.95 87.29M28.7 82.4L30.2 82.4M196.45 82.4L194.95 82.4M28.7 78.6L30.2 78.6M196.45 78.6L194.95 78.6M28.7 75.5L30.2 75.5M196.45 75.5L194.95 75.5M28.7 72.88L30.2 72.88M196.45 72.88L194.95 72.88M28.7 70.61L30.2 70.61M196.45 70.61L194.95 70.61M28.7 68.61L30.2 68.61M196.45 68.61L194.95 68.61M28.7 55.03L30.2 55.03M196.45 55.03L194.95 55.03M28.7 48.14L30.2 48.14M196.45 48.14L194.95 48.14M28.7 43.25L30.2 43.25M196.45 43.25L194.95 43.25M28.7 39.45L30.2 39.45M196.45 39.45L194.95 39.45M28.7 36.35L30.2 36.35M196.45 36.35L194.95 36.35M28.7 33.73L30.2 33.73M196.45 33.73L194.95 33.73M28.7 31.46L30.2 31.46M196.45 31.46L194.95 31.46M28.7 29.46L30.2 29.46M196.45 29.46L194.95 29.46M28.7 15.88L30.2 15.88M196.45 15.88L194.95 15.88M28.7 8.99L30.2 8.99M196.45 8.99L194.95 8.99M28.7 4.09L30.2 4.09M196.45 4.09L194.95 4.09M28.7 0.3L30.2 0.3M196.45 0.3L194.95 0.3M28.7 321.25L28.7 319.75M28.7 160.85L28.7 162.35M35.77 321.25L35.77 319.75M35.77 160.85L35.77 162.35M40.79 321.25L40.79 319.75M40.79 160.85L40.79 162.35M44.68 321.25L44.68 319.75M44.68 160.85L44.68 162.35M47.87 321.25L47.87 319.75M47.87 160.85L47.87 162.35M50.55 321.25L50.55 319.75M50.55 160.85L50.55 162.35M52.88 321.25L52.88 319.75M52.88 160.85L52.88 162.35M54.94 321.25L54.94 319.75M54.94 160.85L54.94 162.35M68.87 321.25L68.87 319.75M68.87 160.85L68.87 162.35M75.94 321.25L75.94 319.75M75.94 160.85L75.94 162.35M80.96 321.25L80.96 319.75M80.96 160.85L80.96 162.35M84.85 321.25L84.85 319.75M84.85 160.85L84.85 162.35M88.03 321.25L88.03 319.75M88.03 160.85L88.03 162.35M90.72 321.25L90.72 319.75M90.72 160.85L90.72 162.35M93.05 321.25L93.05 319.75M93.05 160.85L93.05 162.35M95.11 321.25L95.11 319.75M95.11 160.85L95.11 162.35M109.04 321.25L109.04 319.75M109.04 160.85L109.04 162.35M116.11 321.25L116.11 319.75M116.11 160.85L116.11 162.35M121.13 321.25L121.13 319.75M121.13 160.85L121.13 162.35M125.02 321.25L125.02 319.75M125.02 160.85L125.02 162.35M128.2 321.25L128.2 319.75M128.2 160.85L128.2 162.35M130.89 321.25L130.89 319.75M130.89 160.85L130.89 162.35M133.22 321.25L133.22 319.75M133.22 160.85L133.22 162.35M135.28 321.25L135.28 319.75M135.28 160.85L135.28 162.35M149.21 321.25L149.21 319.75M149.21 160.85L149.21 162.35M156.28 321.25L156.28 319.75M156.28 160.85L156.28 162.35M161.3 321.25L161.3 319.75M161.3 160.85L161.3 162.35M165.19 321.25L165.19 319.75M165.19 160.85L165.19 162.35M168.37 321.25L168.37 319.75M168.37 160.85L168.37 162.35M171.06 321.25L171.06 319.75M171.06 160.85L171.06 162.35M173.39 321.25L173.39 319.75M173.39 160.85L173.39 162.35M175.45 321.25L175.45 319.75M175.45 160.85L175.45 162.35M189.38 321.25L189.38 319.75M189.38 160.85L189.38 162.35M196.45 321.25L196.45 319.75M196.45 160.85L196.45 162.35M28.7 321.25L30.2 321.25M196.45 321.25L194.95 321.25M28.7 317.46L30.2 317.46M196.45 317.46L194.95 317.46M28.7 314.36L30.2 314.36M196.45 314.36L194.95 314.36M28.7 311.73L30.2 311.73M196.45 311.73L194.95 311.73M28.7 309.46L30.2 309.46M196.45 309.46L194.95 309.46M28.7 307.46L30.2 307.46M196.45 307.46L194.95 307.46M28.7 293.88L30.2 293.88M196.45 293.88L194.95 293.88M28.7 286.99L30.2 286.99M196.45 286.99L194.95 286.99M28.7 282.1L30.2 282.1M196.45 282.1L194.95 282.1M28.7 278.3L30.2 278.3M196.45 278.3L194.95 278.3M28.7 275.2L30.2 275.2M196.45 275.2L194.95 275.2M28.7 272.58L30.2 272.58M196.45 272.58L194.95 272.58M28.7 270.31L30.2 270.31M196.45 270.31L194.95 270.31M28.7 268.31L30.2 268.31M196.45 268.31L194.95 268.31M28.7 254.73L30.2 254.73M196.45 254.73L194.95 254.73M28.7 247.84L30.2 247.84M196.45 247.84L194.95 247.84M28.7 242.95L30.2 242.95M196.45 242.95L194.95 242.95M28.7 239.15L30.2 239.15M196.45 239.15L194.95 239.15M28.7 236.05L30.2 236.05M196.45 236.05L194.95 236.05M28.7 233.43L30.2 233.43M196.45 233.43L194.95 233.43M28.7 231.16L30.2 231.16M196.45 231.16L194.95 231.16M28.7 229.16L30.2 229.16M196.45 229.16L194.95 229.16M28.7 215.58L30.2 215.58M196.45 215.58L194.95 215.58M28.7 208.69L30.2 208.69M196.45 208.69L194.95 208.69M28.7 203.8L30.2 203.8M196.45 203.8L194.95 203.8M28.7 200L30.2 200M196.45 200L194.95 200M28.7 196.9L30.2 196.9M196.45 196.9L194.95 196.9M28.7 194.28L30.2 194.28M196.45 194.28L194.95 194.28M28.7 192.01L30.2 192.01M196.45 192.01L194.95 192.01M28.7 190.01L30.2 190.01M196.45 190.01L194.95 190.01M28.7 176.43L30.2 176.43M196.45 176.43L194.95 176.43M28.7 169.54L30.2 169.54M196.45 169.54L194.95 169.54M28.7 164.64L30.2 164.64M196.45 164.64L194.95 164.64M28.7 160.85L30.2 160.85M196.45 160.85L194.95 160.85M196.45 160.7L196.45 159.2M196.45 0.3L196.45 1.8M203.52 160.7L203.52 159.2M203.52 0.3L203.52 1.8M208.54 160.7L208.54 159.2M208.54 0.3L208.54 1.8M212.43 160.7L212.43 159.2M212.43 0.3L212.43 1.8M215.62 160.7L215.62 159.2M215.62 0.3L215.62 1.8M218.3 160.7L218.3 159.2M218.3 0.3L218.3 1.8M220.63 160.7L220.63 159.2M220.63 0.3L220.63 1.8M222.69 160.7L222.69 159.2M222.69 0.3L222.69 1.8M236.62 160.7L236.62 159.2M236.62 0.3L236.62 1.8M243.69 160.7L243.69 159.2M243.69 0.3L243.69 1.8M248.71 160.7L248.71 159.2M248.71 0.3L248.71 1.8M252.6 160.7L252.6 159.2M252.6 0.3L252.6 1.8M255.78 160.7L255.78 159.2M255.78 0.3L255.78 1.8M258.47 160.7L258.47 159.2M258.47 0.3L258.47 1.8M260.8 160.7L260.8 159.2M260.8 0.3L260.8 1.8M262.86 160.7L262.86 159.2M262.86 0.3L262.86 1.8M276.79 160.7L276.79 159.2M276.79 0.3L276.79 1.8M283.86 160.7L283.86 159.2M283.86 0.3L283.86 1.8M288.88 160.7L288.88 159.2M288.88 0.3L288.88 1.8M292.77 160.7L292.77 159.2M292.77 0.3L292.77 1.8M295.95 160.7L295.95 159.2M295.95 0.3L295.95 1.8M298.64 160.7L298.64 159.2M298.64 0.3L298.64 1.8M300.97 160.7L300.97 159.2M300.97 0.3L300.97 1.8M303.03 160.7L303.03 159.2M303.03 0.3L303.03 1.8M316.96 160.7L316.96 159.2M316.96 0.3L316.96 1.8M324.03 160.7L324.03 159.2M324.03 0.3L324.03 1.8M329.05 160.7L329.05 159.2M329.05 0.3L329.05 1.8M332.94 160.7L332.94 159.2M332.94 0.3L332.94 1.8M336.12 160.7L336.12 159.2M336.12 0.3L336.12 1.8M338.81 160.7L338.81 159.2M338.81 0.3L338.81 1.8M341.14 160.7L341.14 159.2M341.14 0.3L341.14 1.8M343.2 160.7L343.2 159.2M343.2 0.3L343.2 1.8M357.13 160.7L357.13 159.2M357.13 0.3L357.13 1.8M364.2 160.7L364.2 159.2M364.2 0.3L364.2 1.8M196.45 160.7L197.95 160.7M364.2 160.7L362.7 160.7M196.45 156.91L197.95 156.91M364.2 156.91L362.7 156.91M196.45 153.81L197.95 153.81M364.2 153.81L362.7 153.81M196.45 151.18L197.95 151.18M364.2 151.18L362.7 151.18M196.45 148.91L197.95 148.91M364.2 148.91L362.7 148.91M196.45 146.91L197.95 146.91M364.2 146.91L362.7 146.91M196.45 133.33L197.95 133.33M364.2 133.33L362.7 133.33M196.45 126.44L197.95 126.44M364.2 126.44L362.7 126.44M196.45 121.55L197.95 121.55M364.2 121.55L362.7 121.55M196.45 117.75L197.95 117.75M364.2 117.75L362.7 117.75M196.45 114.65L197.95 114.65M364.2 114.65L362.7 114.65M196.45 112.03L197.95 112.03M364.2 112.03L362.7 112.03M196.45 109.76L197.95 109.76M364.2 109.76L362.7 109.76M196.45 107.76L197.95 107.76M364.2 107.76L362.7 107.76M196.45 94.18L197.95 94.18M364.2 94.18L362.7 94.18M196.45 87.29L197.95 87.29M364.2 87.29L362.7 87.29M196.45 82.4L197.95 82.4M364.2 82.4L362.7 82.4M196.45 78.6L197.95 78.6M364.2 78.6L362.7 78.6M196.45 75.5L197.95 75.5M364.2 75.5L362.7 75.5M196.45 72.88L197.95 72.88M364.2 72.88L362.7 72.88M196.45 70.61L197.95 70.61M364.2 70.61L362.7 70.61M196.45 68.61L197.95 68.61M364.2 68.61L362.7 68.61M196.45 55.03L197.95 55.03M364.2 55.03L362.7 55.03M196.45 48.14L197.95 48.14M364.2 48.14L362.7 48.14M196.45 43.25L197.95 43.25M364.2 43.25L362.7 43.25M196.45 39.45L197.95 39.45M364.2 39.45L362.7 39.45M196.45 36.35L197.95 36.35M364.2 36.35L362.7 36.35M196.45 33.73L197.95 33.73M364.2 33.73L362.7 33.73M196.45 31.46L197.95 31.46M364.2 31.46L362.7 31.46M196.45 29.46L197.95 29.46M364.2 29.46L362.7 29.46M196.45 15.88L197.95 15.88M364.2 15.88L362.7 15.88M196.45 8.99L197.95 8.99M364.2 8.99L362.7 8.99M196.45 4.09L197.95 4.09M364.2 4.09L362.7 4.09M196.45 0.3L197.95 0.3M364.2 0.3L362.7 0.3M196.45 321.25L196.45 319.75M196.45 160.85L196.45 162.35M203.52 321.25L203.52 319.75M203.52 160.85L203.52 162.35M208.54 321.25L208.54 319.75M208.54 160.85L208.54 162.35M212.43 321.25L212.43 319.75M212.43 160.85L212.43 162.35M215.62 321.25L215.62 319.75M215.62 160.85L215.62 162.35M218.3 321.25L218.3 319.75M218.3 160.85L218.3 162.35M220.63 321.25L220.63 319.75M220.63 160.85L220.63 162.35M222.69 321.25L222.69 319.75M222.69 160.85L222.69 162.35M236.62 321.25L236.62 319.75M236.62 160.85L236.62 162.35M243.69 321.25L243.69 319.75M243.69 160.85L243.69 162.35M248.71 321.25L248.71 319.75M248.71 160.85L248.71 162.35M252.6 321.25L252.6 319.75M252.6 160.85L252.6 162.35M255.78 321.25L255.78 319.75M255.78 160.85L255.78 162.35M258.47 321.25L258.47 319.75M258.47 160.85L258.47 162.35M260.8 321.25L260.8 319.75M260.8 160.85L260.8 162.35M262.86 321.25L262.86 319.75M262.86 160.85L262.86 162.35M276.79 321.25L276.79 319.75M276.79 160.85L276.79 162.35M283.86 321.25L283.86 319.75M283.86 160.85L283.86 162.35M288.88 321.25L288.88 319.75M288.88 160.85L288.88 162.35M292.77 321.25L292.77 319.75M292.77 160.85L292.77 162.35M295.95 321.25L295.95 319.75M295.95 160.85L295.95 162.35M298.64 321.25L298.64 319.75M298.64 160.85L298.64 162.35M300.97 321.25L300.97 319.75M300.97 160.85L300.97 162.35M303.03 321.25L303.03 319.75M303.03 160.85L303.03 162.35M316.96 321.25L316.96 319.75M316.96 160.85L316.96 162.35M324.03 321.25L324.03 319.75M324.03 160.85L324.03 162.35M329.05 321.25L329.05 319.75M329.05 160.85L329.05 162.35M332.94 321.25L332.94 319.75M332.94 160.85L332.94 162.35M336.12 321.25L336.12 319.75M336.12 160.85L336.12 162.35M338.81 321.25L338.81 319.75M338.81 160.85L338.81 162.35M341.14 321.25L341.14 319.75M341.14 160.85L341.14 162.35M343.2 321.25L343.2 319.75M343.2 160.85L343.2 162.35M357.13 321.25L357.13 319.75M357.13 160.85L357.13 162.35M364.2 321.25L364.2 319.75M364.2 160.85L364.2 162.35M196.45 321.25L197.95 321.25M364.2 321.25L362.7 321.25M196.45 317.46L197.95 317.46M364.2 317.46L362.7 317.46M196.45 314.36L197.95 314.36M364.2 314.36L362.7 314.36M196.45 311.73L197.95 311.73M364.2 311.73L362.7 311.73M196.45 309.46L197.95 309.46M364.2 309.46L362.7 309.46M196.45 307.46L197.95 307.46M364.2 307.46L362.7 307.46M196.45 293.88L197.95 293.88M364.2 293.88L362.7 293.88M196.45 286.99L197.95 286.99M364.2 286.99L362.7 286.99M196.45 282.1L197.95 282.1M364.2 282.1L362.7 282.1M196.45 278.3L197.95 278.3M364.2 278.3L362.7 278.3M196.45 275.2L197.95 275.2M364.2 275.2L362.7 275.2M196.45 272.58L197.95 272.58M364.2 272.58L362.7 272.58M196.45 270.31L197.95 270.31M364.2 270.31L362.7 270.31M196.45 268.31L197.95 268.31M364.2 268.31L362.7 268.31M196.45 254.73L197.95 254.73M364.2 254.73L362.7 254.73M196.45 247.84L197.95 247.84M364.2 247.84L362.7 247.84M196.45 242.95L197.95 242.95M364.2 242.95L362.7 242.95M196.45 239.15L197.95 239.15M364.2 239.15L362.7 239.15M196.45 236.05L197.95 236.05M364.2 236.05L362.7 236.05M196.45 233.43L197.95 233.43M364.2 233.43L362.7 233.43M196.45 231.16L197.95 231.16M364.2 231.16L362.7 231.16M196.45 229.16L197.95 229.16M364.2 229.16L362.7 229.16M196.45 215.58L197.95 215.58M364.2 215.58L362.7 215.58M196.45 208.69L197.95 208.69M364.2 208.69L362.7 208.69M196.45 203.8L197.95 203.8M364.2 203.8L362.7 203.8M196.45 200L197.95 200M364.2 200L362.7 200M196.45 196.9L197.95 196.9M364.2 196.9L362.7 196.9M196.45 194.28L197.95 194.28M364.2 194.28L362.7 194.28M196.45 192.01L197.95 192.01M364.2 192.01L362.7 192.01M196.45 190.01L197.95 190.01M364.2 190.01L362.7 190.01M196.45 176.43L197.95 176.43M364.2 176.43L362.7 176.43M196.45 169.54L197.95 169.54M364.2 169.54L362.7 169.54M196.45 164.64L197.95 164.64M364.2 164.64L362.7 164.64M196.45 160.85L197.95 160.85M364.2 160.85L362.7 160.85M364.2 160.7L364.2 159.2M364.2 0.3L364.2 1.8M371.27 160.7L371.27 159.2M371.27 0.3L371.27 1.8M376.29 160.7L376.29 159.2M376.29 0.3L376.29 1.8M380.18 160.7L380.18 159.2M380.18 0.3L380.18 1.8M383.37 160.7L383.37 159.2M383.37 0.3L383.37 1.8M386.05 160.7L386.05 159.2M386.05 0.3L386.05 1.8M388.38 160.7L388.38 159.2M388.38 0.3L388.38 1.8M390.44 160.7L390.44 159.2M390.44 0.3L390.44 1.8M404.37 160.7L404.37 159.2M404.37 0.3L404.37 1.8M411.44 160.7L411.44 159.2M411.44 0.3L411.44 1.8M416.46 160.7L416.46 159.2M416.46 0.3L416.46 1.8M420.35 160.7L420.35 159.2M420.35 0.3L420.35 1.8M423.53 160.7L423.53 159.2M423.53 0.3L423.53 1.8M426.22 160.7L426.22 159.2M426.22 0.3L426.22 1.8M428.55 160.7L428.55 159.2M428.55 0.3L428.55 1.8M430.61 160.7L430.61 159.2M430.61 0.3L430.61 1.8M444.54 160.7L444.54 159.2M444.54 0.3L444.54 1.8M451.61 160.7L451.61 159.2M451.61 0.3L451.61 1.8M456.63 160.7L456.63 159.2M456.63 0.3L456.63 1.8M460.52 160.7L460.52 159.2M460.52 0.3L460.52 1.8M463.7 160.7L463.7 159.2M463.7 0.3L463.7 1.8M466.39 160.7L466.39 159.2M466.39 0.3L466.39 1.8M468.72 160.7L468.72 159.2M468.72 0.3L468.72 1.8M470.78 160.7L470.78 159.2M470.78 0.3L470.78 1.8M484.71 160.7L484.71 159.2M484.71 0.3L484.71 1.8M491.78 160.7L491.78 159.2M491.78 0.3L491.78 1.8M496.8 160.7L496.8 159.2M496.8 0.3L496.8 1.8M500.69 160.7L500.69 159.2M500.69 0.3L500.69 1.8M503.87 160.7L503.87 159.2M503.87 0.3L503.87 1.8M506.56 160.7L506.56 159.2M506.56 0.3L506.56 1.8M508.89 160.7L508.89 159.2M508.89 0.3L508.89 1.8M510.95 160.7L510.95 159.2M510.95 0.3L510.95 1.8M524.88 160.7L524.88 159.2M524.88 0.3L524.88 1.8M531.95 160.7L531.95 159.2M531.95 0.3L531.95 1.8M364.2 160.7L365.7 160.7M531.95 160.7L530.45 160.7M364.2 156.91L365.7 156.91M531.95 156.91L530.45 156.91M364.2 153.81L365.7 153.81M531.95 153.81L530.45 153.81M364.2 151.18L365.7 151.18M531.95 151.18L530.45 151.18M364.2 148.91L365.7 148.91M531.95 148.91L530.45 148.91M364.2 146.91L365.7 146.91M531.95 146.91L530.45 146.91M364.2 133.33L365.7 133.33M531.95 133.33L530.45 133.33M364.2 126.44L365.7 126.44M531.95 126.44L530.45 126.44M364.2 121.55L365.7 121.55M531.95 121.55L530.45 121.55M364.2 117.75L365.7 117.75M531.95 117.75L530.45 117.75M364.2 114.65L365.7 114.65M531.95 114.65L530.45 114.65M364.2 112.03L365.7 112.03M531.95 112.03L530.45 112.03M364.2 109.76L365.7 109.76M531.95 109.76L530.45 109.76M364.2 107.76L365.7 107.76M531.95 107.76L530.45 107.76M364.2 94.18L365.7 94.18M531.95 94.18L530.45 94.18M364.2 87.29L365.7 87.29M531.95 87.29L530.45 87.29M364.2 82.4L365.7 82.4M531.95 82.4L530.45 82.4M364.2 78.6L365.7 78.6M531.95 78.6L530.45 78.6M364.2 75.5L365.7 75.5M531.95 75.5L530.45 75.5M364.2 72.88L365.7 72.88M531.95 72.88L530.45 72.88M364.2 70.61L365.7 70.61M531.95 70.61L530.45 70.61M364.2 68.61L365.7 68.61M531.95 68.61L530.45 68.61M364.2 55.03L365.7 55.03M531.95 55.03L530.45 55.03M364.2 48.14L365.7 48.14M531.95 48.14L530.45 48.14M364.2 43.25L365.7 43.25M531.95 43.25L530.45 43.25M364.2 39.45L365.7 39.45M531.95 39.45L530.45 39.45M364.2 36.35L365.7 36.35M531.95 36.35L530.45 36.35M364.2 33.73L365.7 33.73M531.95 33.73L530.45 33.73M364.2 31.46L365.7 31.46M531.95 31.46L530.45 31.46M364.2 29.46L365.7 29.46M531.95 29.46L530.45 29.46M364.2 15.88L365.7 15.88M531.95 15.88L530.45 15.88M364.2 8.99L365.7 8.99M531.95 8.99L530.45 8.99M364.2 4.09L365.7 4.09M531.95 4.09L530.45 4.09M364.2 0.3L365.7 0.3M531.95 0.3L530.45 0.3M364.2 321.25L364.2 319.75M364.2 160.85L364.2 162.35M371.27 321.25L371.27 319.75M371.27 160.85L371.27 162.35M376.29 321.25L376.29 319.75M376.29 160.85L376.29 162.35M380.18 321.25L380.18 319.75M380.18 160.85L380.18 162.35M383.37 321.25L383.37 319.75M383.37 160.85L383.37 162.35M386.05 321.25L386.05 319.75M386.05 160.85L386.05 162.35M388.38 321.25L388.38 319.75M388.38 160.85L388.38 162.35M390.44 321.25L390.44 319.75M390.44 160.85L390.44 162.35M404.37 321.25L404.37 319.75M404.37 160.85L404.37 162.35M411.44 321.25L411.44 319.75M411.44 160.85L411.44 162.35M416.46 321.25L416.46 319.75M416.46 160.85L416.46 162.35M420.35 321.25L420.35 319.75M420.35 160.85L420.35 162.35M423.53 321.25L423.53 319.75M423.53 160.85L423.53 162.35M426.22 321.25L426.22 319.75M426.22 160.85L426.22 162.35M428.55 321.25L428.55 319.75M428.55 160.85L428.55 162.35M430.61 321.25L430.61 319.75M430.61 160.85L430.61 162.35M444.54 321.25L444.54 319.75M444.54 160.85L444.54 162.35M451.61 321.25L451.61 319.75M451.61 160.85L451.61 162.35M456.63 321.25L456.63 319.75M456.63 160.85L456.63 162.35M460.52 321.25L460.52 319.75M460.52 160.85L460.52 162.35M463.7 321.25L463.7 319.75M463.7 160.85L463.7 162.35M466.39 321.25L466.39 319.75M466.39 160.85L466.39 162.35M468.72 321.25L468.72 319.75M468.72 160.85L468.72 162.35M470.78 321.25L470.78 319.75M470.78 160.85L470.78 162.35M484.71 321.25L484.71 319.75M484.71 160.85L484.71 162.35M491.78 321.25L491.78 319.75M491.78 160.85L491.78 162.35M496.8 321.25L496.8 319.75M496.8 160.85L496.8 162.35M500.69 321.25L500.69 319.75M500.69 160.85L500.69 162.35M503.87 321.25L503.87 319.75M503.87 160.85L503.87 162.35M506.56 321.25L506.56 319.75M506.56 160.85L506.56 162.35M508.89 321.25L508.89 319.75M508.89 160.85L508.89 162.35M510.95 321.25L510.95 319.75M510.95 160.85L510.95 162.35M524.88 321.25L524.88 319.75M524.88 160.85L524.88 162.35M531.95 321.25L531.95 319.75M531.95 160.85L531.95 162.35M364.2 321.25L365.7 321.25M531.95 321.25L530.45 321.25M364.2 317.46L365.7 317.46M531.95 317.46L530.45 317.46M364.2 314.36L365.7 314.36M531.95 314.36L530.45 314.36M364.2 311.73L365.7 311.73M531.95 311.73L530.45 311.73M364.2 309.46L365.7 309.46M531.95 309.46L530.45 309.46M364.2 307.46L365.7 307.46M531.95 307.46L530.45 307.46M364.2 293.88L365.7 293.88M531.95 293.88L530.45 293.88M364.2 286.99L365.7 286.99M531.95 286.99L530.45 286.99M364.2 282.1L365.7 282.1M531.95 282.1L530.45 282.1M364.2 278.3L365.7 278.3M531.95 278.3L530.45 278.3M364.2 275.2L365.7 275.2M531.95 275.2L530.45 275.2M364.2 272.58L365.7 272.58M531.95 272.58L530.45 272.58M364.2 270.31L365.7 270.31M531.95 270.31L530.45 270.31M364.2 268.31L365.7 268.31M531.95 268.31L530.45 268.31M364.2 254.73L365.7 254.73M531.95 254.73L530.45 254.73M364.2 247.84L365.7 247.84M531.95 247.84L530.45 247.84M364.2 242.95L365.7 242.95M531.95 242.95L530.45 242.95M364.2 239.15L365.7 239.15M531.95 239.15L530.45 239.15M364.2 236.05L365.7 236.05M531.95 236.05L530.45 236.05M364.2 233.43L365.7 233.43M531.95 233.43L530.45 233.43M364.2 231.16L365.7 231.16M531.95 231.16L530.45 231.16M364.2 229.16L365.7 229.16M531.95 229.16L530.45 229.16M364.2 215.58L365.7 215.58M531.95 215.58L530.45 215.58M364.2 208.69L365.7 208.69M531.95 208.69L530.45 208.69M364.2 203.8L365.7 203.8M531.95 203.8L530.45 203.8M364.2 200L365.7 200M531.95 200L530.45 200M364.2 196.9L365.7 196.9M531.95 196.9L530.45 196.9M364.2 194.28L365.7 194.28M531.95 194.28L530.45 194.28M364.2 192.01L365.7 192.01M531.95 192.01L530.45 192.01M364.2 190.01L365.7 190.01M531.95 190.01L530.45 190.01M364.2 176.43L365.7 176.43M531.95 176.43L530.45 176.43M364.2 169.54L365.7 169.54M531.95 169.54L530.45 169.54M364.2 164.64L365.7 164.64M531.95 164.64L530.45 164.64M364.2 160.85L365.7 160.85M531.95 160.85L530.45 160.85M531.95 160.7L531.95 159.2M531.95 0.3L531.95 1.8M539.02 160.7L539.02 159.2M539.02 0.3L539.02 1.8M544.04 160.7L544.04 159.2M544.04 0.3L544.04 1.8M547.93 160.7L547.93 159.2M547.93 0.3L547.93 1.8M551.12 160.7L551.12 159.2M551.12 0.3L551.12 1.8M553.8 160.7L553.8 159.2M553.8 0.3L553.8 1.8M556.13 160.7L556.13 159.2M556.13 0.3L556.13 1.8M558.19 160.7L558.19 159.2M558.19 0.3L558.19 1.8M572.12 160.7L572.12 159.2M572.12 0.3L572.12 1.8M579.19 160.7L579.19 159.2M579.19 0.3L579.19 1.8M584.21 160.7L584.21 159.2M584.21 0.3L584.21 1.8M588.1 160.7L588.1 159.2M588.1 0.3L588.1 1.8M591.28 160.7L591.28 159.2M591.28 0.3L591.28 1.8M593.97 160.7L593.97 159.2M593.97 0.3L593.97 1.8M596.3 160.7L596.3 159.2M596.3 0.3L596.3 1.8M598.36 160.7L598.36 159.2M598.36 0.3L598.36 1.8M612.29 160.7L612.29 159.2M612.29 0.3L612.29 1.8M619.36 160.7L619.36 159.2M619.36 0.3L619.36 1.8M624.38 160.7L624.38 159.2M624.38 0.3L624.38 1.8M628.27 160.7L628.27 159.2M628.27 0.3L628.27 1.8M631.45 160.7L631.45 159.2M631.45 0.3L631.45 1.8M634.14 160.7L634.14 159.2M634.14 0.3L634.14 1.8M636.47 160.7L636.47 159.2M636.47 0.3L636.47 1.8M638.53 160.7L638.53 159.2M638.53 0.3L638.53 1.8M652.46 160.7L652.46 159.2M652.46 0.3L652.46 1.8M659.53 160.7L659.53 159.2M659.53 0.3L659.53 1.8M664.55 160.7L664.55 159.2M664.55 0.3L664.55 1.8M668.44 160.7L668.44 159.2M668.44 0.3L668.44 1.8M671.62 160.7L671.62 159.2M671.62 0.3L671.62 1.8M674.31 160.7L674.31 159.2M674.31 0.3L674.31 1.8M676.64 160.7L676.64 159.2M676.64 0.3L676.64 1.8M678.7 160.7L678.7 159.2M678.7 0.3L678.7 1.8M692.63 160.7L692.63 159.2M692.63 0.3L692.63 1.8M699.7 160.7L699.7 159.2M699.7 0.3L699.7 1.8M531.95 160.7L533.45 160.7M699.7 160.7L698.2 160.7M531.95 156.91L533.45 156.91M699.7 156.91L698.2 156.91M531.95 153.81L533.45 153.81M699.7 153.81L698.2 153.81M531.95 151.18L533.45 151.18M699.7 151.18L698.2 151.18M531.95 148.91L533.45 148.91M699.7 148.91L698.2 148.91M531.95 146.91L533.45 146.91M699.7 146.91L698.2 146.91M531.95 133.33L533.45 133.33M699.7 133.33L698.2 133.33M531.95 126.44L533.45 126.44M699.7 126.44L698.2 126.44M531.95 121.55L533.45 121.55M699.7 121.55L698.2 121.55M531.95 117.75L533.45 117.75M699.7 117.75L698.2 117.75M531.95 114.65L533.45 114.65M699.7 114.65L698.2 114.65M531.95 112.03L533.45 112.03M699.7 112.03L698.2 112.03M531.95 109.76L533.45 109.76M699.7 109.76L698.2 109.76M531.95 107.76L533.45 107.76M699.7 107.76L698.2 107.76M531.95 94.18L533.45 94.18M699.7 94.18L698.2 94.18M531.95 87.29L533.45 87.29M699.7 87.29L698.2 87.29M531.95 82.4L533.45 82.4M699.7 82.4L698.2 82.4M531.95 78.6L533.45 78.6M699.7 78.6L698.2 78.6M531.95 75.5L533.45 75.5M699.7 75.5L698.2 75.5M531.95 72.88L533.45 72.88M699.7 72.88L698.2 72.88M531.95 70.61L533.45 70.61M699.7 70.61L698.2 70.61M531.95 68.61L533.45 68.61M699.7 68.61L698.2 68.61M531.95 55.03L533.45 55.03M699.7 55.03L698.2 55.03M531.95 48.14L533.45 48.14M699.7 48.14L698.2 48.14M531.95 43.25L533.45 43.25M699.7 43.25L698.2 43.25M531.95 39.45L533.45 39.45M699.7 39.45L698.2 39.45M531.95 36.35L533.45 36.35M699.7 36.35L698.2 36.35M531.95 33.73L533.45 33.73M699.7 33.73L698.2 33.73M531.95 31.46L533.45 31.46M699.7 31.46L698.2 31.46M531.95 29.46L533.45 29.46M699.7 29.46L698.2 29.46M531.95 15.88L533.45 15.88M699.7 15.88L698.2 15.88M531.95 8.99L533.45 8.99M699.7 8.99L698.2 8.99M531.95 4.09L533.45 4.09M699.7 4.09L698.2 4.09M531.95 0.3L533.45 0.3M699.7 0.3L698.2 0.3M531.95 321.25L531.95 319.75M531.95 160.85L531.95 162.35M539.02 321.25L539.02 319.75M539.02 160.85L539.02 162.35M544.04 321.25L544.04 319.75M544.04 160.85L544.04 162.35M547.93 321.25L547.93 319.75M547.93 160.85L547.93 162.35M551.12 321.25L551.12 319.75M551.12 160.85L551.12 162.35M553.8 321.25L553.8 319.75M553.8 160.85L553.8 162.35M556.13 321.25L556.13 319.75M556.13 160.85L556.13 162.35M558.19 321.25L558.19 319.75M558.19 160.85L558.19 162.35M572.12 321.25L572.12 319.75M572.12 160.85L572.12 162.35M579.19 321.25L579.19 319.75M579.19 160.85L579.19 162.35M584.21 321.25L584.21 319.75M584.21 160.85L584.21 162.35M588.1 321.25L588.1 319.75M588.1 160.85L588.1 162.35M591.28 321.25L591.28 319.75M591.28 160.85L591.28 162.35M593.97 321.25L593.97 319.75M593.97 160.85L593.97 162.35M596.3 321.25L596.3 319.75M596.3 160.85L596.3 162.35M598.36 321.25L598.36 319.75M598.36 160.85L598.36 162.35M612.29 321.25L612.29 319.75M612.29 160.85L612.29 162.35M619.36 321.25L619.36 319.75M619.36 160.85L619.36 162.35M624.38 321.25L624.38 319.75M624.38 160.85L624.38 162.35M628.27 321.25L628.27 319.75M628.27 160.85L628.27 162.35M631.45 321.25L631.45 319.75M631.45 160.85L631.45 162.35M634.14 321.25L634.14 319.75M634.14 160.85L634.14 162.35M636.47 321.25L636.47 319.75M636.47 160.85L636.47 162.35M638.53 321.25L638.53 319.75M638.53 160.85L638.53 162.35M652.46 321.25L652.46 319.75M652.46 160.85L652.46 162.35M659.53 321.25L659.53 319.75M659.53 160.85L659.53 162.35M664.55 321.25L664.55 319.75M664.55 160.85L664.55 162.35M668.44 321.25L668.44 319.75M668.44 160.85L668.44 162.35M671.62 321.25L671.62 319.75M671.62 160.85L671.62 162.35M674.31 321.25L674.31 319.75M674.31 160.85L674.31 162.35M676.64 321.25L676.64 319.75M676.64 160.85L676.64 162.35M678.7 321.25L678.7 319.75M678.7 160.85L678.7 162.35M692.63 321.25L692.63 319.75M692.63 160.85L692.63 162.35M699.7 321.25L699.7 319.75M699.7 160.85L699.7 162.35M531.95 321.25L533.45 321.25M699.7 321.25L698.2 321.25M531.95 317.46L533.45 317.46M699.7 317.46L698.2 317.46M531.95 314.36L533.45 314.36M699.7 314.36L698.2 314.36M531.95 311.73L533.45 311.73M699.7 311.73L698.2 311.73M531.95 309.46L533.45 309.46M699.7 309.46L698.2 309.46M531.95 307.46L533.45 307.46M699.7 307.46L698.2 307.46M531.95 293.88L533.45 293.88M699.7 293.88L698.2 293.88M531.95 286.99L533.45 286.99M699.7 286.99L698.2 286.99M531.95 282.1L533.45 282.1M699.7 282.1L698.2 282.1M531.95 278.3L533.45 278.3M699.7 278.3L698.2 278.3M531.95 275.2L533.45 275.2M699.7 275.2L698.2 275.2M531.95 272.58L533.45 272.58M699.7 272.58L698.2 272.58M531.95 270.31L533.45 270.31M699.7 270.31L698.2 270.31M531.95 268.31L533.45 268.31M699.7 268.31L698.2 268.31M531.95 254.73L533.45 254.73M699.7 254.73L698.2 254.73M531.95 247.84L533.45 247.84M699.7 247.84L698.2 247.84M531.95 242.95L533.45 242.95M699.7 242.95L698.2 242.95M531.95 239.15L533.45 239.15M699.7 239.15L698.2 239.15M531.95 236.05L533.45 236.05M699.7 236.05L698.2 236.05M531.95 233.43L533.45 233.43M699.7 233.43L698.2 233.43M531.95 231.16L533.45 231.16M699.7 231.16L698.2 231.16M531.95 229.16L533.45 229.16M699.7 229.16L698.2 229.16M531.95 215.58L533.45 215.58M699.7 215.58L698.2 215.58M531.95 208.69L533.45 208.69M699.7 208.69L698.2 208.69M531.95 203.8L533.45 203.8M699.7 203.8L698.2 203.8M531.95 200L533.45 200M699.7 200L698.2 200M531.95 196.9L533.45 196.9M699.7 196.9L698.2 196.9M531.95 194.28L533.45 194.28M699.7 194.28L698.2 194.28M531.95 192.01L533.45 192.01M699.7 192.01L698.2 192.01M531.95 190.01L533.45 190.01M699.7 190.01L698.2 190.01M531.95 176.43L533.45 176.43M699.7 176.43L698.2 176.43M531.95 169.54L533.45 169.54M699.7 169.54L698.2 169.54M531.95 164.64L533.45 164.64M699.7 164.64L698.2 164.64M531.95 160.85L533.45 160.85M699.7 160.85L698.2 160.85" stroke="#222" stroke-width="0.8" fill="none"/>
<path d="M28.7 0.3V321.25M196.45 0.3V321.25M364.2 0.3V321.25M531.95 0.3V321.25M699.7 0.3V321.25M28.7 0.3H699.7M28.7 160.85H699.7M28.7 321.25H699.7" stroke="#222" stroke-width="0.8" fill="none" stroke-linecap="square"/>
<g fill="#1c1c1c">
<g transform="translate(56.88 331.5)"><text x="-9.5" y="0" font-size="10.3" textLength="10.5" lengthAdjust="spacing" font-family="Liberation Serif, serif">10</text><rect x="0.9" y="-6.2" width="4.3" height="0.6"/><text x="5.8" y="-3.1" font-size="7.4" font-family="Liberation Serif, serif">2</text></g>
<g transform="translate(97.05 331.5)"><text x="-9.5" y="0" font-size="10.3" textLength="10.5" lengthAdjust="spacing" font-family="Liberation Serif, serif">10</text><rect x="0.9" y="-6.2" width="4.3" height="0.6"/><text x="5.8" y="-3.1" font-size="7.4" font-family="Liberation Serif, serif">1</text></g>
<g transform="translate(137.22 331.5)"><text x="-7.15" y="0" font-size="10.3" textLength="10.5" lengthAdjust="spacing" font-family="Liberation Serif, serif">10</text><text x="3.45" y="-3.1" font-size="7.4" font-family="Liberation Serif, serif">0</text></g>
<g transform="translate(177.38 331.5)"><text x="-7.15" y="0" font-size="10.3" textLength="10.5" lengthAdjust="spacing" font-family="Liberation Serif, serif">10</text><text x="3.45" y="-3.1" font-size="7.4" font-family="Liberation Serif, serif">1</text></g>
<g transform="translate(224.63 331.5)"><text x="-9.5" y="0" font-size="10.3" textLength="10.5" lengthAdjust="spacing" font-family="Liberation Serif, serif">10</text><rect x="0.9" y="-6.2" width="4.3" height="0.6"/><text x="5.8" y="-3.1" font-size="7.4" font-family="Liberation Serif, serif">2</text></g>
<g transform="translate(264.8 331.5)"><text x="-9.5" y="0" font-size="10.3" textLength="10.5" lengthAdjust="spacing" font-family="Liberation Serif, serif">10</text><rect x="0.9" y="-6.2" width="4.3" height="0.6"/><text x="5.8" y="-3.1" font-size="7.4" font-family="Liberation Serif, serif">1</text></g>
<g transform="translate(304.97 331.5)"><text x="-7.15" y="0" font-size="10.3" textLength="10.5" lengthAdjust="spacing" font-family="Liberation Serif, serif">10</text><text x="3.45" y="-3.1" font-size="7.4" font-family="Liberation Serif, serif">0</text></g>
<g transform="translate(345.13 331.5)"><text x="-7.15" y="0" font-size="10.3" textLength="10.5" lengthAdjust="spacing" font-family="Liberation Serif, serif">10</text><text x="3.45" y="-3.1" font-size="7.4" font-family="Liberation Serif, serif">1</text></g>
<g transform="translate(392.38 331.5)"><text x="-9.5" y="0" font-size="10.3" textLength="10.5" lengthAdjust="spacing" font-family="Liberation Serif, serif">10</text><rect x="0.9" y="-6.2" width="4.3" height="0.6"/><text x="5.8" y="-3.1" font-size="7.4" font-family="Liberation Serif, serif">2</text></g>
<g transform="translate(432.55 331.5)"><text x="-9.5" y="0" font-size="10.3" textLength="10.5" lengthAdjust="spacing" font-family="Liberation Serif, serif">10</text><rect x="0.9" y="-6.2" width="4.3" height="0.6"/><text x="5.8" y="-3.1" font-size="7.4" font-family="Liberation Serif, serif">1</text></g>
<g transform="translate(472.72 331.5)"><text x="-7.15" y="0" font-size="10.3" textLength="10.5" lengthAdjust="spacing" font-family="Liberation Serif, serif">10</text><text x="3.45" y="-3.1" font-size="7.4" font-family="Liberation Serif, serif">0</text></g>
<g transform="translate(512.88 331.5)"><text x="-7.15" y="0" font-size="10.3" textLength="10.5" lengthAdjust="spacing" font-family="Liberation Serif, serif">10</text><text x="3.45" y="-3.1" font-size="7.4" font-family="Liberation Serif, serif">1</text></g>
<g transform="translate(560.13 331.5)"><text x="-9.5" y="0" font-size="10.3" textLength="10.5" lengthAdjust="spacing" font-family="Liberation Serif, serif">10</text><rect x="0.9" y="-6.2" width="4.3" height="0.6"/><text x="5.8" y="-3.1" font-size="7.4" font-family="Liberation Serif, serif">2</text></g>
<g transform="translate(600.3 331.5)"><text x="-9.5" y="0" font-size="10.3" textLength="10.5" lengthAdjust="spacing" font-family="Liberation Serif, serif">10</text><rect x="0.9" y="-6.2" width="4.3" height="0.6"/><text x="5.8" y="-3.1" font-size="7.4" font-family="Liberation Serif, serif">1</text></g>
<g transform="translate(640.47 331.5)"><text x="-7.15" y="0" font-size="10.3" textLength="10.5" lengthAdjust="spacing" font-family="Liberation Serif, serif">10</text><text x="3.45" y="-3.1" font-size="7.4" font-family="Liberation Serif, serif">0</text></g>
<g transform="translate(680.63 331.5)"><text x="-7.15" y="0" font-size="10.3" textLength="10.5" lengthAdjust="spacing" font-family="Liberation Serif, serif">10</text><text x="3.45" y="-3.1" font-size="7.4" font-family="Liberation Serif, serif">1</text></g>
<g transform="translate(23.9 145.52) rotate(-90)"><text x="-11.5" y="0" font-size="10.3" textLength="10.5" lengthAdjust="spacing" font-family="Liberation Serif, serif">10</text><rect x="-1.1" y="-6.2" width="4.3" height="0.6"/><text x="3.8" y="-3.1" font-size="7.4" font-family="Liberation Serif, serif">1</text><text x="7.8" y="-3.1" font-size="7.4" font-family="Liberation Serif, serif">3</text></g>
<g transform="translate(23.9 106.37) rotate(-90)"><text x="-11.5" y="0" font-size="10.3" textLength="10.5" lengthAdjust="spacing" font-family="Liberation Serif, serif">10</text><rect x="-1.1" y="-6.2" width="4.3" height="0.6"/><text x="3.8" y="-3.1" font-size="7.4" font-family="Liberation Serif, serif">1</text><text x="7.8" y="-3.1" font-size="7.4" font-family="Liberation Serif, serif">2</text></g>
<g transform="translate(23.9 67.22) rotate(-90)"><text x="-11.5" y="0" font-size="10.3" textLength="10.5" lengthAdjust="spacing" font-family="Liberation Serif, serif">10</text><rect x="-1.1" y="-6.2" width="4.3" height="0.6"/><text x="3.8" y="-3.1" font-size="7.4" font-family="Liberation Serif, serif">1</text><text x="7.8" y="-3.1" font-size="7.4" font-family="Liberation Serif, serif">1</text></g>
<g transform="translate(23.9 28.07) rotate(-90)"><text x="-11.5" y="0" font-size="10.3" textLength="10.5" lengthAdjust="spacing" font-family="Liberation Serif, serif">10</text><rect x="-1.1" y="-6.2" width="4.3" height="0.6"/><text x="3.8" y="-3.1" font-size="7.4" font-family="Liberation Serif, serif">1</text><text x="7.8" y="-3.1" font-size="7.4" font-family="Liberation Serif, serif">0</text></g>
<g transform="translate(23.9 306.07) rotate(-90)"><text x="-11.5" y="0" font-size="10.3" textLength="10.5" lengthAdjust="spacing" font-family="Liberation Serif, serif">10</text><rect x="-1.1" y="-6.2" width="4.3" height="0.6"/><text x="3.8" y="-3.1" font-size="7.4" font-family="Liberation Serif, serif">1</text><text x="7.8" y="-3.1" font-size="7.4" font-family="Liberation Serif, serif">3</text></g>
<g transform="translate(23.9 266.92) rotate(-90)"><text x="-11.5" y="0" font-size="10.3" textLength="10.5" lengthAdjust="spacing" font-family="Liberation Serif, serif">10</text><rect x="-1.1" y="-6.2" width="4.3" height="0.6"/><text x="3.8" y="-3.1" font-size="7.4" font-family="Liberation Serif, serif">1</text><text x="7.8" y="-3.1" font-size="7.4" font-family="Liberation Serif, serif">2</text></g>
<g transform="translate(23.9 227.77) rotate(-90)"><text x="-11.5" y="0" font-size="10.3" textLength="10.5" lengthAdjust="spacing" font-family="Liberation Serif, serif">10</text><rect x="-1.1" y="-6.2" width="4.3" height="0.6"/><text x="3.8" y="-3.1" font-size="7.4" font-family="Liberation Serif, serif">1</text><text x="7.8" y="-3.1" font-size="7.4" font-family="Liberation Serif, serif">1</text></g>
<g transform="translate(23.9 188.62) rotate(-90)"><text x="-11.5" y="0" font-size="10.3" textLength="10.5" lengthAdjust="spacing" font-family="Liberation Serif, serif">10</text><rect x="-1.1" y="-6.2" width="4.3" height="0.6"/><text x="3.8" y="-3.1" font-size="7.4" font-family="Liberation Serif, serif">1</text><text x="7.8" y="-3.1" font-size="7.4" font-family="Liberation Serif, serif">0</text></g>
<text x="344.3" y="343.0" font-size="11.9" textLength="56" lengthAdjust="spacing" font-family="Liberation Serif, serif">Time (day)</text>
<g transform="translate(10.7 123.9) rotate(-90)" font-family="Liberation Serif, serif" font-size="11.6"><text x="0" y="0">Ψ</text><text x="11.6" y="0">(</text><text x="17.3" y="0" textLength="14.7" lengthAdjust="spacing">erg</text><text x="33.3" y="0">s</text><rect x="37.7" y="-5.9" width="4.4" height="0.6"/><text x="43.0" y="-3.6" font-size="8.0">2</text><text x="51.0" y="0" textLength="14.2" lengthAdjust="spacing">cm</text><rect x="67.4" y="-5.9" width="4.4" height="0.6"/><text x="73.5" y="-3.6" font-size="8.0">2</text><text x="81.9" y="0">)</text></g>
<g transform="translate(10.7 284.4) rotate(-90)" font-family="Liberation Serif, serif" font-size="11.6"><text x="0" y="0">Ψ</text><text x="11.6" y="0">(</text><text x="17.3" y="0" textLength="14.7" lengthAdjust="spacing">erg</text><text x="33.3" y="0">s</text><rect x="37.7" y="-5.9" width="4.4" height="0.6"/><text x="43.0" y="-3.6" font-size="8.0">2</text><text x="51.0" y="0" textLength="14.2" lengthAdjust="spacing">cm</text><rect x="67.4" y="-5.9" width="4.4" height="0.6"/><text x="73.5" y="-3.6" font-size="8.0">2</text><text x="81.9" y="0">)</text></g>
<g font-size="11.3" font-family="Liberation Serif, serif"><text font-style="italic"><tspan x="45.4" y="68.9">H</tspan><tspan x="54.8">S</tspan><tspan x="61.8">T</tspan><tspan x="72.0" font-size="12.6">λ</tspan></text><text x="78.2" y="68.9" textLength="20.6" lengthAdjust="spacing">1158</text><text x="102.6" y="68.9">Å</text></g>
<text x="324.7" y="39.5" font-size="11.2" font-family="Liberation Serif, serif" textLength="32.8" lengthAdjust="spacing">UVW2</text>
<text x="500.8" y="39.3" font-size="11.6" font-style="italic" font-family="Liberation Serif, serif">g</text><path d="M508.4 30.9L509.5 31.4L507.5 35.1L507 34.9Z"/>
<text x="669" y="39.5" font-size="11.6" font-style="italic" font-family="Liberation Serif, serif">z</text><path d="M676.3 30.9L677.4 31.4L675 34.9L674.5 34.7Z"/>
<text x="156" y="133.6" font-size="11.6" font-style="italic" font-family="Liberation Serif, serif">a</text><text x="162.7" y="132" font-size="7.5" font-family="Liberation Serif, serif">*</text><rect x="169.9" y="129.1" width="7.8" height="0.65"/><rect x="169.9" y="131.4" width="7.8" height="0.65"/><text x="181.4" y="133.6" font-size="11.3" font-family="Liberation Serif, serif">0</text>
<text x="156" y="293.9" font-size="11.6" font-style="italic" font-family="Liberation Serif, serif">a</text><text x="162.7" y="292.3" font-size="7.5" font-family="Liberation Serif, serif">*</text><rect x="169.9" y="289.4" width="7.8" height="0.65"/><rect x="169.9" y="291.7" width="7.8" height="0.65"/><text x="181.4" y="293.9" font-size="11.3" font-family="Liberation Serif, serif">1</text>
<path d="M108 14.5H130" stroke="#000" stroke-width="0.9"/>
<path d="M108 30.3H130" stroke="#4169e1" stroke-width="0.9"/>
<text x="138.3" y="16.8" font-size="10.6" font-style="italic" font-family="Liberation Serif, serif">h</text><rect x="147.3" y="12.9" width="7.6" height="0.6"/><rect x="147.3" y="15" width="7.6" height="0.6"/><text x="158.2" y="16.8" font-size="10.6" textLength="13" lengthAdjust="spacing" font-family="Liberation Serif, serif">2.5</text><text x="173.5" y="16.8" font-size="10.6" font-family="Liberation Serif, serif">R</text><text x="180.9" y="18.3" font-size="7.6" font-family="Liberation Serif, serif">g</text>
<text x="138.3" y="32.6" font-size="10.6" font-style="italic" font-family="Liberation Serif, serif">h</text><rect x="147.3" y="28.7" width="7.6" height="0.6"/><rect x="147.3" y="30.8" width="7.6" height="0.6"/><text x="158.2" y="32.6" font-size="10.6" textLength="14.8" lengthAdjust="spacing" font-family="Liberation Serif, serif">100</text><text x="175.9" y="32.6" font-size="10.6" font-family="Liberation Serif, serif">R</text><text x="183.3" y="34.1" font-size="7.6" font-family="Liberation Serif, serif">g</text>
<rect x="103.6" y="166.6" width="87.7" height="31.8" rx="2" ry="2" fill="#fff" fill-opacity="0.8" stroke="#ccc" stroke-width="0.8"/>
<path d="M108 173.8H130" stroke="#000" stroke-width="1.25"/>
<path d="M108 189.4H130" stroke="#000" stroke-width="1.25" stroke-dasharray="4.6 2"/>
<text x="138.2" y="177.8" font-size="10.6" textLength="15.5" lengthAdjust="spacing" font-family="Liberation Serif, serif">GR</text>
<text x="138.4" y="192.7" font-size="10.6" font-family="Liberation Serif, serif" textLength="47.8" lengthAdjust="spacing">Newtonian</text>
</g>
</svg>
</body></html>
